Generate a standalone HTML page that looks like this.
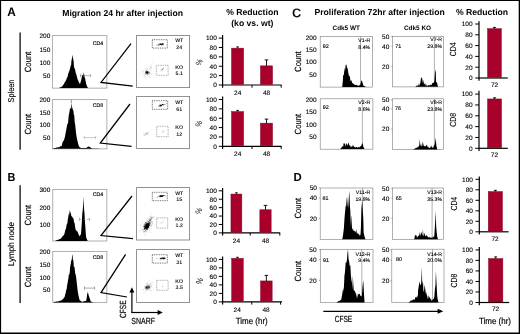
<!DOCTYPE html>
<html lang="en"><head><meta charset="utf-8"><title>Figure</title>
<style>html,body{margin:0;padding:0;background:#fff}svg{display:block}text{text-rendering:geometricPrecision}</style></head>
<body>
<svg width="520" height="334" viewBox="0 0 520 334" font-family='"Liberation Sans", sans-serif'>
<rect x="0" y="0" width="520" height="334" fill="#fff"/>
<text transform="translate(7.20 16.20) scale(0.97 1)" y="0.00" font-size="12.2" text-anchor="start" font-weight="bold" fill="#000" >A</text>
<text transform="translate(7.40 180.70) scale(0.95 1)" y="0.00" font-size="11.5" text-anchor="start" font-weight="bold" fill="#000" >B</text>
<text transform="translate(292.30 16.70)" y="0.00" font-size="12" text-anchor="start" font-weight="normal" fill="#000" stroke="#000" stroke-width="0.45">C</text>
<text transform="translate(293.60 180.80) scale(0.98 1)" y="0.00" font-size="11.6" text-anchor="start" font-weight="bold" fill="#000" >D</text>
<text transform="translate(122.65 15.50)" y="0.00" font-size="8.65" text-anchor="middle" font-weight="bold" fill="#000" >Migration 24 hr after injection</text>
<text transform="translate(252.30 15.40)" y="0.00" font-size="8.65" text-anchor="middle" font-weight="bold" fill="#000" >% Reduction</text>
<text transform="translate(252.30 25.90)" y="0.00" font-size="8.65" text-anchor="middle" font-weight="bold" fill="#000" >(ko vs. wt)</text>
<text transform="translate(314.40 15.40)" y="0.00" font-size="8.65" text-anchor="start" font-weight="bold" fill="#000" >Proliferation 72hr after injection</text>
<text transform="translate(482.00 15.40)" y="0.00" font-size="8.65" text-anchor="middle" font-weight="bold" fill="#000" >% Reduction</text>
<text transform="translate(346.20 27.70)" y="2.29" font-size="6.4" text-anchor="middle" font-weight="bold" fill="#000" >Cdk5 WT</text>
<text transform="translate(417.50 27.70)" y="2.29" font-size="6.4" text-anchor="middle" font-weight="bold" fill="#000" >Cdk5 KO</text>
<line x1="20.10" y1="32.40" x2="20.10" y2="149.80" stroke="#000" stroke-width="1.25" />
<line x1="20.10" y1="185.30" x2="20.10" y2="303.00" stroke="#000" stroke-width="1.25" />
<text transform="translate(10.60 91.00) rotate(-90) scale(0.865 1)" y="3.04" font-size="8.5" text-anchor="middle" font-weight="normal" fill="#000" stroke="#000" stroke-width="0.14">Spleen</text>
<text transform="translate(10.60 244.10) rotate(-90) scale(0.95 1)" y="3.04" font-size="8.5" text-anchor="middle" font-weight="normal" fill="#000" stroke="#000" stroke-width="0.14">Lymph node</text>
<text transform="translate(28.10 61.90) rotate(-90) scale(0.859 1)" y="3.22" font-size="9.0" text-anchor="middle" font-weight="normal" fill="#000" stroke="#000" stroke-width="0.18">Count</text>
<text transform="translate(28.10 124.20) rotate(-90) scale(0.859 1)" y="3.22" font-size="9.0" text-anchor="middle" font-weight="normal" fill="#000" stroke="#000" stroke-width="0.18">Count</text>
<text transform="translate(28.10 215.10) rotate(-90) scale(0.859 1)" y="3.22" font-size="9.0" text-anchor="middle" font-weight="normal" fill="#000" stroke="#000" stroke-width="0.18">Count</text>
<text transform="translate(28.10 277.00) rotate(-90) scale(0.859 1)" y="3.22" font-size="9.0" text-anchor="middle" font-weight="normal" fill="#000" stroke="#000" stroke-width="0.18">Count</text>
<text transform="translate(297.90 61.60) rotate(-90) scale(0.859 1)" y="3.22" font-size="9.0" text-anchor="middle" font-weight="normal" fill="#000" stroke="#000" stroke-width="0.18">Count</text>
<text transform="translate(297.90 124.10) rotate(-90) scale(0.859 1)" y="3.22" font-size="9.0" text-anchor="middle" font-weight="normal" fill="#000" stroke="#000" stroke-width="0.18">Count</text>
<text transform="translate(297.90 208.20) rotate(-90) scale(0.859 1)" y="3.22" font-size="9.0" text-anchor="middle" font-weight="normal" fill="#000" stroke="#000" stroke-width="0.18">Count</text>
<text transform="translate(297.90 271.20) rotate(-90) scale(0.859 1)" y="3.22" font-size="9.0" text-anchor="middle" font-weight="normal" fill="#000" stroke="#000" stroke-width="0.18">Count</text>
<rect x="52.30" y="35.70" width="54.60" height="52.40" fill="none" stroke="#858585" stroke-width="0.65" />
<text transform="translate(50.30 36.10)" y="2.33" font-size="6.5" text-anchor="end" font-weight="normal" fill="#000" stroke="#000" stroke-width="0.12">200</text>
<text transform="translate(50.30 49.20)" y="2.33" font-size="6.5" text-anchor="end" font-weight="normal" fill="#000" stroke="#000" stroke-width="0.12">150</text>
<text transform="translate(50.30 62.30)" y="2.33" font-size="6.5" text-anchor="end" font-weight="normal" fill="#000" stroke="#000" stroke-width="0.12">100</text>
<text transform="translate(50.30 75.60)" y="2.33" font-size="6.5" text-anchor="end" font-weight="normal" fill="#000" stroke="#000" stroke-width="0.12">50</text>
<polygon points="59.00,88.00 59.00,88.00 59.45,87.79 59.90,87.57 60.35,87.37 60.80,87.13 61.25,86.90 61.70,86.80 62.00,86.50 62.60,85.88 63.05,84.91 63.50,84.55 63.95,83.95 64.40,82.75 64.80,82.30 65.30,81.66 65.75,80.41 66.20,79.99 66.50,79.00 67.10,77.39 67.55,76.92 68.10,74.00 68.45,73.37 68.90,71.55 69.35,71.16 69.80,69.31 70.20,68.00 70.70,65.53 71.15,65.28 71.40,61.00 72.05,57.83 72.60,54.80 72.95,57.94 73.60,61.00 73.85,64.64 74.30,68.45 74.60,68.00 75.20,70.08 75.65,72.73 76.20,74.00 76.55,75.50 77.00,76.95 77.50,79.00 77.90,79.98 78.35,80.73 78.80,82.22 79.10,82.50 79.90,84.20 80.15,83.39 80.60,82.26 81.20,80.00 81.50,78.45 81.95,76.46 82.30,75.00 82.85,74.99 83.30,72.20 83.75,74.91 84.30,75.00 84.65,77.61 85.10,78.46 85.60,81.00 86.00,82.96 86.45,84.63 86.80,86.00 87.35,86.93 87.80,87.56 88.10,88.00 88.10,88.00" fill="#000"/>
<text transform="translate(97.90 42.80)" y="1.86" font-size="5.2" text-anchor="middle" font-weight="normal" fill="#111" stroke="#111" stroke-width="0.15">CD4</text>
<line x1="80.50" y1="75.60" x2="90.60" y2="75.60" stroke="#777" stroke-width="0.55" />
<line x1="80.50" y1="74.00" x2="80.50" y2="77.20" stroke="#777" stroke-width="0.55" />
<line x1="90.60" y1="74.00" x2="90.60" y2="77.20" stroke="#777" stroke-width="0.55" />
<line x1="84.00" y1="74.00" x2="84.00" y2="77.20" stroke="#777" stroke-width="0.55" />
<polyline points="131.00,43.60 101.00,82.40 132.70,86.20" fill="none" stroke="#000" stroke-width="1.25" stroke-linejoin="miter"/>
<rect x="136.60" y="35.40" width="53.00" height="52.20" fill="none" stroke="#777" stroke-width="0.8" />
<rect x="152.30" y="39.70" width="15.00" height="8.40" fill="none" stroke="#222" stroke-width="0.7" stroke-dasharray="0.9 0.85"/>
<rect x="156.30" y="65.30" width="11.80" height="10.00" fill="none" stroke="#707070" stroke-width="0.65" stroke-dasharray="0.9 0.85"/>
<text transform="translate(179.20 40.60)" y="1.86" font-size="5.2" text-anchor="middle" font-weight="bold" fill="#222" >WT</text>
<text transform="translate(179.20 47.60)" y="1.86" font-size="5.2" text-anchor="middle" font-weight="bold" fill="#222" >24</text>
<text transform="translate(179.20 67.00)" y="1.86" font-size="5.2" text-anchor="middle" font-weight="bold" fill="#222" >KO</text>
<text transform="translate(179.20 73.20)" y="1.86" font-size="5.2" text-anchor="middle" font-weight="bold" fill="#222" >5.1</text>
<g fill="#000" fill-opacity="0.6"><circle cx="145.9" cy="72.7" r="0.33"/><circle cx="147.7" cy="72.0" r="0.33"/><circle cx="145.8" cy="72.3" r="0.33"/><circle cx="147.3" cy="73.3" r="0.33"/><circle cx="145.9" cy="71.3" r="0.33"/><circle cx="147.5" cy="72.8" r="0.33"/><circle cx="148.2" cy="73.2" r="0.33"/><circle cx="146.8" cy="72.2" r="0.33"/><circle cx="149.1" cy="72.2" r="0.33"/><circle cx="146.2" cy="71.4" r="0.33"/><circle cx="147.0" cy="72.5" r="0.33"/><circle cx="146.6" cy="72.3" r="0.33"/><circle cx="147.1" cy="73.0" r="0.33"/><circle cx="147.8" cy="72.6" r="0.33"/><circle cx="145.4" cy="73.0" r="0.33"/><circle cx="145.7" cy="72.3" r="0.33"/><circle cx="145.6" cy="72.4" r="0.33"/><circle cx="146.2" cy="72.6" r="0.33"/><circle cx="149.7" cy="72.4" r="0.33"/><circle cx="147.6" cy="71.3" r="0.33"/><circle cx="146.7" cy="73.0" r="0.33"/><circle cx="146.8" cy="72.7" r="0.33"/><circle cx="147.0" cy="71.5" r="0.33"/><circle cx="147.4" cy="71.7" r="0.33"/><circle cx="148.5" cy="72.0" r="0.33"/><circle cx="147.5" cy="72.4" r="0.33"/><circle cx="147.7" cy="71.9" r="0.33"/><circle cx="147.7" cy="72.3" r="0.33"/><circle cx="148.0" cy="72.9" r="0.33"/><circle cx="147.0" cy="71.7" r="0.33"/><circle cx="147.6" cy="72.8" r="0.33"/><circle cx="148.3" cy="72.1" r="0.33"/><circle cx="147.4" cy="72.8" r="0.33"/><circle cx="147.1" cy="72.6" r="0.33"/><circle cx="147.1" cy="71.9" r="0.33"/><circle cx="146.0" cy="72.1" r="0.33"/><circle cx="147.4" cy="73.7" r="0.33"/><circle cx="147.7" cy="73.3" r="0.33"/><circle cx="147.6" cy="73.0" r="0.33"/><circle cx="147.1" cy="73.1" r="0.33"/><circle cx="148.4" cy="72.1" r="0.33"/><circle cx="146.3" cy="74.1" r="0.33"/><circle cx="147.1" cy="73.2" r="0.33"/><circle cx="147.6" cy="71.4" r="0.33"/><circle cx="149.0" cy="73.9" r="0.33"/><circle cx="147.1" cy="73.0" r="0.33"/><circle cx="147.0" cy="71.6" r="0.33"/><circle cx="146.8" cy="72.7" r="0.33"/><circle cx="147.8" cy="73.0" r="0.33"/><circle cx="147.0" cy="73.6" r="0.33"/><circle cx="146.3" cy="73.1" r="0.33"/><circle cx="147.8" cy="72.2" r="0.33"/><circle cx="145.4" cy="71.6" r="0.33"/><circle cx="147.1" cy="72.8" r="0.33"/><circle cx="148.2" cy="71.5" r="0.33"/><circle cx="146.9" cy="73.0" r="0.33"/><circle cx="146.8" cy="70.4" r="0.33"/><circle cx="147.6" cy="74.4" r="0.33"/><circle cx="147.8" cy="71.6" r="0.33"/><circle cx="146.5" cy="72.6" r="0.33"/><circle cx="149.0" cy="72.9" r="0.33"/><circle cx="147.0" cy="73.7" r="0.33"/><circle cx="146.8" cy="74.0" r="0.33"/><circle cx="146.3" cy="72.0" r="0.33"/><circle cx="147.5" cy="73.6" r="0.33"/><circle cx="147.5" cy="72.7" r="0.33"/><circle cx="145.4" cy="71.8" r="0.33"/><circle cx="146.4" cy="71.9" r="0.33"/><circle cx="147.4" cy="72.1" r="0.33"/><circle cx="147.6" cy="72.5" r="0.33"/><circle cx="146.6" cy="72.5" r="0.33"/><circle cx="147.3" cy="73.1" r="0.33"/><circle cx="146.5" cy="72.2" r="0.33"/><circle cx="145.7" cy="73.8" r="0.33"/><circle cx="148.1" cy="72.2" r="0.33"/><circle cx="146.5" cy="71.3" r="0.33"/><circle cx="147.0" cy="72.6" r="0.33"/><circle cx="148.8" cy="72.6" r="0.33"/><circle cx="146.2" cy="70.3" r="0.33"/><circle cx="148.1" cy="72.6" r="0.33"/></g>
<g fill="#000" fill-opacity="0.25"><circle cx="142.9" cy="73.1" r="0.3"/><circle cx="146.1" cy="71.1" r="0.3"/><circle cx="149.6" cy="72.6" r="0.3"/><circle cx="146.1" cy="77.4" r="0.3"/><circle cx="145.5" cy="68.9" r="0.3"/><circle cx="143.1" cy="70.9" r="0.3"/><circle cx="148.7" cy="74.8" r="0.3"/><circle cx="150.1" cy="77.6" r="0.3"/><circle cx="151.7" cy="74.3" r="0.3"/><circle cx="150.7" cy="74.3" r="0.3"/><circle cx="145.4" cy="74.8" r="0.3"/><circle cx="147.2" cy="71.9" r="0.3"/><circle cx="152.7" cy="74.7" r="0.3"/><circle cx="145.7" cy="72.3" r="0.3"/><circle cx="153.7" cy="71.9" r="0.3"/><circle cx="149.1" cy="74.3" r="0.3"/><circle cx="148.5" cy="74.2" r="0.3"/><circle cx="145.7" cy="71.2" r="0.3"/><circle cx="146.6" cy="71.5" r="0.3"/><circle cx="149.3" cy="76.9" r="0.3"/><circle cx="144.5" cy="74.1" r="0.3"/><circle cx="144.3" cy="70.6" r="0.3"/><circle cx="146.4" cy="72.9" r="0.3"/><circle cx="145.8" cy="65.2" r="0.3"/><circle cx="151.0" cy="71.8" r="0.3"/><circle cx="145.3" cy="74.5" r="0.3"/><circle cx="145.4" cy="68.5" r="0.3"/><circle cx="148.4" cy="73.7" r="0.3"/><circle cx="144.7" cy="74.9" r="0.3"/><circle cx="148.1" cy="69.3" r="0.3"/><circle cx="152.0" cy="73.3" r="0.3"/><circle cx="143.8" cy="73.8" r="0.3"/><circle cx="147.4" cy="75.3" r="0.3"/><circle cx="143.2" cy="75.5" r="0.3"/><circle cx="149.7" cy="74.5" r="0.3"/><circle cx="148.8" cy="76.3" r="0.3"/><circle cx="149.1" cy="72.9" r="0.3"/><circle cx="144.7" cy="75.7" r="0.3"/><circle cx="149.8" cy="73.4" r="0.3"/><circle cx="147.5" cy="74.6" r="0.3"/><circle cx="139.9" cy="73.5" r="0.3"/><circle cx="140.0" cy="73.2" r="0.3"/><circle cx="150.0" cy="77.9" r="0.3"/><circle cx="145.7" cy="73.8" r="0.3"/><circle cx="146.8" cy="66.2" r="0.3"/><circle cx="149.1" cy="72.5" r="0.3"/><circle cx="147.2" cy="69.9" r="0.3"/><circle cx="146.9" cy="72.8" r="0.3"/><circle cx="150.7" cy="73.4" r="0.3"/><circle cx="156.9" cy="71.4" r="0.3"/><circle cx="146.3" cy="72.4" r="0.3"/><circle cx="144.7" cy="76.8" r="0.3"/><circle cx="148.9" cy="68.9" r="0.3"/><circle cx="147.3" cy="75.8" r="0.3"/><circle cx="143.0" cy="73.0" r="0.3"/><circle cx="146.4" cy="79.2" r="0.3"/><circle cx="148.2" cy="71.4" r="0.3"/><circle cx="145.4" cy="77.9" r="0.3"/><circle cx="145.7" cy="79.0" r="0.3"/><circle cx="142.6" cy="72.0" r="0.3"/><circle cx="146.4" cy="70.5" r="0.3"/><circle cx="146.4" cy="74.5" r="0.3"/><circle cx="145.1" cy="68.5" r="0.3"/><circle cx="150.9" cy="76.7" r="0.3"/><circle cx="145.1" cy="73.4" r="0.3"/><circle cx="139.7" cy="75.5" r="0.3"/><circle cx="143.3" cy="71.0" r="0.3"/><circle cx="153.2" cy="68.9" r="0.3"/><circle cx="147.1" cy="69.5" r="0.3"/><circle cx="141.8" cy="69.2" r="0.3"/><circle cx="147.8" cy="68.8" r="0.3"/><circle cx="145.4" cy="74.6" r="0.3"/><circle cx="146.6" cy="68.8" r="0.3"/><circle cx="151.3" cy="72.9" r="0.3"/><circle cx="151.0" cy="69.6" r="0.3"/><circle cx="151.8" cy="68.7" r="0.3"/><circle cx="142.1" cy="71.3" r="0.3"/><circle cx="146.0" cy="73.3" r="0.3"/><circle cx="145.4" cy="74.3" r="0.3"/><circle cx="150.8" cy="70.7" r="0.3"/><circle cx="143.1" cy="71.4" r="0.3"/><circle cx="149.4" cy="74.8" r="0.3"/><circle cx="146.0" cy="69.7" r="0.3"/><circle cx="147.0" cy="75.3" r="0.3"/><circle cx="145.0" cy="76.2" r="0.3"/><circle cx="147.7" cy="73.3" r="0.3"/><circle cx="145.2" cy="76.4" r="0.3"/><circle cx="147.1" cy="68.3" r="0.3"/><circle cx="149.3" cy="71.3" r="0.3"/><circle cx="150.1" cy="73.0" r="0.3"/></g>
<g fill="#000" fill-opacity="0.2"><circle cx="150.7" cy="67.2" r="0.3"/><circle cx="150.2" cy="67.4" r="0.3"/><circle cx="150.8" cy="67.1" r="0.3"/><circle cx="151.7" cy="64.9" r="0.3"/><circle cx="153.0" cy="61.1" r="0.3"/><circle cx="151.0" cy="67.6" r="0.3"/><circle cx="149.9" cy="67.7" r="0.3"/><circle cx="150.7" cy="67.8" r="0.3"/><circle cx="151.8" cy="64.3" r="0.3"/><circle cx="150.5" cy="66.9" r="0.3"/><circle cx="151.9" cy="65.1" r="0.3"/><circle cx="151.1" cy="67.5" r="0.3"/><circle cx="150.1" cy="68.3" r="0.3"/><circle cx="149.1" cy="69.2" r="0.3"/><circle cx="147.0" cy="71.7" r="0.3"/><circle cx="149.2" cy="68.6" r="0.3"/><circle cx="152.7" cy="62.2" r="0.3"/><circle cx="147.0" cy="72.7" r="0.3"/><circle cx="151.3" cy="66.4" r="0.3"/><circle cx="153.0" cy="65.7" r="0.3"/><circle cx="149.0" cy="68.3" r="0.3"/><circle cx="150.6" cy="68.4" r="0.3"/><circle cx="150.9" cy="66.7" r="0.3"/><circle cx="150.9" cy="67.1" r="0.3"/><circle cx="147.9" cy="71.6" r="0.3"/></g>
<g fill="#000" fill-opacity="0.85"><circle cx="161.2" cy="44.8" r="0.35"/><circle cx="160.2" cy="43.6" r="0.35"/><circle cx="161.7" cy="44.4" r="0.35"/><circle cx="161.9" cy="44.4" r="0.35"/><circle cx="161.2" cy="44.0" r="0.35"/><circle cx="160.4" cy="44.2" r="0.35"/><circle cx="161.0" cy="44.6" r="0.35"/><circle cx="162.2" cy="43.7" r="0.35"/><circle cx="162.3" cy="44.1" r="0.35"/><circle cx="162.9" cy="44.7" r="0.35"/><circle cx="162.1" cy="43.5" r="0.35"/><circle cx="162.2" cy="43.5" r="0.35"/><circle cx="163.5" cy="43.8" r="0.35"/><circle cx="161.3" cy="45.0" r="0.35"/><circle cx="159.1" cy="44.4" r="0.35"/><circle cx="160.0" cy="44.1" r="0.35"/><circle cx="160.4" cy="44.6" r="0.35"/><circle cx="161.1" cy="44.4" r="0.35"/><circle cx="162.2" cy="43.5" r="0.35"/><circle cx="163.3" cy="44.0" r="0.35"/><circle cx="159.3" cy="44.2" r="0.35"/><circle cx="162.6" cy="44.5" r="0.35"/><circle cx="160.6" cy="44.4" r="0.35"/><circle cx="161.8" cy="44.6" r="0.35"/><circle cx="161.3" cy="44.6" r="0.35"/><circle cx="160.3" cy="44.0" r="0.35"/><circle cx="162.4" cy="44.4" r="0.35"/><circle cx="161.4" cy="44.5" r="0.35"/><circle cx="161.8" cy="44.5" r="0.35"/><circle cx="163.0" cy="44.3" r="0.35"/><circle cx="162.5" cy="44.0" r="0.35"/><circle cx="160.6" cy="43.3" r="0.35"/><circle cx="162.0" cy="44.2" r="0.35"/><circle cx="162.1" cy="43.4" r="0.35"/><circle cx="160.8" cy="44.1" r="0.35"/><circle cx="159.1" cy="44.8" r="0.35"/><circle cx="163.0" cy="43.6" r="0.35"/><circle cx="162.1" cy="44.9" r="0.35"/><circle cx="159.9" cy="44.8" r="0.35"/><circle cx="163.6" cy="44.8" r="0.35"/></g>
<g fill="#000" fill-opacity="0.5"><circle cx="157.4" cy="45.1" r="0.3"/><circle cx="157.0" cy="44.9" r="0.3"/><circle cx="156.6" cy="45.1" r="0.3"/><circle cx="158.4" cy="45.2" r="0.3"/><circle cx="159.9" cy="44.5" r="0.3"/><circle cx="158.1" cy="44.8" r="0.3"/><circle cx="158.4" cy="44.3" r="0.3"/><circle cx="159.4" cy="43.5" r="0.3"/><circle cx="158.5" cy="45.4" r="0.3"/><circle cx="159.3" cy="44.0" r="0.3"/><circle cx="160.2" cy="44.5" r="0.3"/><circle cx="157.5" cy="44.4" r="0.3"/><circle cx="158.8" cy="44.9" r="0.3"/><circle cx="158.4" cy="45.3" r="0.3"/></g>
<g fill="#000" fill-opacity="0.6"><circle cx="163.6" cy="67.9" r="0.3"/><circle cx="160.9" cy="70.5" r="0.3"/><circle cx="162.5" cy="69.4" r="0.3"/><circle cx="161.9" cy="69.1" r="0.3"/><circle cx="162.4" cy="70.0" r="0.3"/><circle cx="161.6" cy="71.0" r="0.3"/><circle cx="162.9" cy="68.7" r="0.3"/><circle cx="162.8" cy="68.2" r="0.3"/><circle cx="162.8" cy="69.6" r="0.3"/><circle cx="162.0" cy="69.6" r="0.3"/><circle cx="161.2" cy="70.8" r="0.3"/><circle cx="163.3" cy="68.5" r="0.3"/></g>
<line x1="222.60" y1="35.10" x2="222.60" y2="87.70" stroke="#000" stroke-width="1.2" />
<line x1="222.30" y1="85.00" x2="281.60" y2="85.00" stroke="#000" stroke-width="1.2" />
<line x1="218.80" y1="85.00" x2="222.60" y2="85.00" stroke="#000" stroke-width="1.0" />
<text transform="translate(216.80 85.00)" y="2.33" font-size="6.5" text-anchor="end" font-weight="normal" fill="#000" stroke="#000" stroke-width="0.12">0</text>
<line x1="218.80" y1="75.62" x2="222.60" y2="75.62" stroke="#000" stroke-width="1.0" />
<text transform="translate(216.80 75.62)" y="2.33" font-size="6.5" text-anchor="end" font-weight="normal" fill="#000" stroke="#000" stroke-width="0.12">20</text>
<line x1="218.80" y1="66.24" x2="222.60" y2="66.24" stroke="#000" stroke-width="1.0" />
<text transform="translate(216.80 66.24)" y="2.33" font-size="6.5" text-anchor="end" font-weight="normal" fill="#000" stroke="#000" stroke-width="0.12">40</text>
<line x1="218.80" y1="56.86" x2="222.60" y2="56.86" stroke="#000" stroke-width="1.0" />
<text transform="translate(216.80 56.86)" y="2.33" font-size="6.5" text-anchor="end" font-weight="normal" fill="#000" stroke="#000" stroke-width="0.12">60</text>
<line x1="218.80" y1="47.48" x2="222.60" y2="47.48" stroke="#000" stroke-width="1.0" />
<text transform="translate(216.80 47.48)" y="2.33" font-size="6.5" text-anchor="end" font-weight="normal" fill="#000" stroke="#000" stroke-width="0.12">80</text>
<line x1="218.80" y1="38.10" x2="222.60" y2="38.10" stroke="#000" stroke-width="1.0" />
<text transform="translate(216.80 38.10)" y="2.33" font-size="6.5" text-anchor="end" font-weight="normal" fill="#000" stroke="#000" stroke-width="0.12">100</text>
<line x1="252.00" y1="85.00" x2="252.00" y2="87.70" stroke="#000" stroke-width="1.0" />
<line x1="281.20" y1="85.00" x2="281.20" y2="87.70" stroke="#000" stroke-width="1.0" />
<rect x="231.55" y="48.15" width="12.10" height="36.35" fill="#a6002b" stroke="#8a0622" stroke-width="0.5" />
<line x1="237.60" y1="46.90" x2="237.60" y2="48.20" stroke="#000" stroke-width="0.9" />
<line x1="236.30" y1="46.90" x2="238.90" y2="46.90" stroke="#000" stroke-width="0.9" />
<rect x="260.45" y="65.85" width="12.10" height="18.65" fill="#a6002b" stroke="#8a0622" stroke-width="0.5" />
<line x1="266.50" y1="59.90" x2="266.50" y2="65.90" stroke="#000" stroke-width="0.9" />
<line x1="264.70" y1="59.90" x2="268.30" y2="59.90" stroke="#000" stroke-width="0.9" />
<text transform="translate(237.70 92.80)" y="2.33" font-size="6.5" text-anchor="middle" font-weight="normal" fill="#000" stroke="#000" stroke-width="0.12">24</text>
<text transform="translate(266.60 92.80)" y="2.33" font-size="6.5" text-anchor="middle" font-weight="normal" fill="#000" stroke="#000" stroke-width="0.12">48</text>
<text transform="translate(199.00 62.20) rotate(-65) scale(0.9 1)" y="2.86" font-size="8.0" text-anchor="middle" font-weight="normal" fill="#000" >%</text>
<rect x="52.30" y="99.70" width="54.60" height="49.20" fill="none" stroke="#858585" stroke-width="0.65" />
<text transform="translate(50.30 100.00)" y="2.33" font-size="6.5" text-anchor="end" font-weight="normal" fill="#000" stroke="#000" stroke-width="0.12">200</text>
<text transform="translate(50.30 112.20)" y="2.33" font-size="6.5" text-anchor="end" font-weight="normal" fill="#000" stroke="#000" stroke-width="0.12">150</text>
<text transform="translate(50.30 124.70)" y="2.33" font-size="6.5" text-anchor="end" font-weight="normal" fill="#000" stroke="#000" stroke-width="0.12">100</text>
<text transform="translate(50.30 137.20)" y="2.33" font-size="6.5" text-anchor="end" font-weight="normal" fill="#000" stroke="#000" stroke-width="0.12">50</text>
<polygon points="53.20,148.80 53.20,148.20 53.65,148.17 54.10,148.11 54.55,147.99 55.00,147.95 55.45,147.88 55.90,147.75 56.35,147.58 56.80,147.51 57.25,147.44 57.70,147.47 58.15,147.32 58.60,147.30 59.05,147.25 59.50,147.00 59.95,146.70 60.50,145.80 60.85,146.32 61.50,146.60 61.75,145.51 62.20,143.71 62.50,142.50 63.10,141.33 63.55,140.46 64.00,140.42 64.30,139.00 64.90,137.09 65.35,134.41 65.80,132.07 66.20,130.00 66.70,127.33 67.15,124.97 67.40,124.00 68.05,122.92 68.50,117.86 68.80,115.00 69.40,112.22 70.00,108.00 70.30,108.61 70.75,108.98 71.30,102.60 71.65,106.17 72.10,110.34 72.55,106.68 72.80,108.50 73.45,111.15 73.90,114.94 74.20,115.00 74.80,123.08 75.25,125.12 75.70,130.00 76.15,133.80 76.80,138.00 77.05,139.01 77.50,141.09 77.80,142.50 78.40,144.54 78.85,145.90 79.20,146.80 79.75,147.22 80.20,147.54 80.65,147.87 81.00,148.00 81.55,148.06 82.00,148.00 82.45,148.09 82.90,148.09 83.35,148.02 83.80,148.06 84.25,148.03 84.70,148.04 85.15,148.05 85.60,147.98 86.00,148.00 86.50,147.77 86.95,147.45 87.40,147.22 87.85,146.82 88.30,146.65 88.70,146.20 89.20,146.71 89.65,146.90 90.10,147.33 90.55,147.59 91.00,147.85 91.60,148.30 91.90,148.36 92.35,148.38 92.80,148.39 93.25,148.37 93.70,148.40 94.15,148.44 94.60,148.45 95.05,148.47 95.50,148.48 95.95,148.51 96.40,148.50 96.85,148.51 97.30,148.52 97.75,148.55 98.20,148.56 98.65,148.61 99.00,148.60 99.00,148.80" fill="#000"/>
<line x1="71.30" y1="99.90" x2="71.30" y2="103.00" stroke="#222" stroke-width="0.5" />
<text transform="translate(97.90 105.40)" y="1.86" font-size="5.2" text-anchor="middle" font-weight="normal" fill="#111" stroke="#111" stroke-width="0.15">CD8</text>
<line x1="84.30" y1="137.60" x2="95.40" y2="137.60" stroke="#999" stroke-width="0.55" />
<line x1="84.30" y1="136.00" x2="84.30" y2="139.20" stroke="#999" stroke-width="0.55" />
<line x1="95.40" y1="136.00" x2="95.40" y2="139.20" stroke="#999" stroke-width="0.55" />
<polyline points="130.00,104.00 100.30,143.00 131.60,146.40" fill="none" stroke="#000" stroke-width="1.25" stroke-linejoin="miter"/>
<rect x="136.60" y="96.40" width="53.00" height="52.00" fill="none" stroke="#777" stroke-width="0.8" />
<rect x="152.30" y="100.70" width="15.40" height="8.60" fill="none" stroke="#222" stroke-width="0.7" stroke-dasharray="0.9 0.85"/>
<rect x="156.70" y="126.30" width="11.40" height="10.40" fill="none" stroke="#707070" stroke-width="0.65" stroke-dasharray="0.9 0.85"/>
<text transform="translate(179.20 102.00)" y="1.86" font-size="5.2" text-anchor="middle" font-weight="bold" fill="#222" >WT</text>
<text transform="translate(179.20 109.00)" y="1.86" font-size="5.2" text-anchor="middle" font-weight="bold" fill="#222" >61</text>
<text transform="translate(179.20 127.60)" y="1.86" font-size="5.2" text-anchor="middle" font-weight="bold" fill="#222" >KO</text>
<text transform="translate(179.20 134.50)" y="1.86" font-size="5.2" text-anchor="middle" font-weight="bold" fill="#222" >12</text>
<g fill="#000" fill-opacity="0.3"><circle cx="147.7" cy="134.2" r="0.3"/><circle cx="144.5" cy="134.0" r="0.3"/><circle cx="147.2" cy="134.9" r="0.3"/><circle cx="146.2" cy="132.9" r="0.3"/><circle cx="144.9" cy="134.6" r="0.3"/><circle cx="147.4" cy="133.2" r="0.3"/><circle cx="145.4" cy="134.1" r="0.3"/><circle cx="146.0" cy="133.3" r="0.3"/><circle cx="146.2" cy="134.2" r="0.3"/><circle cx="148.4" cy="132.6" r="0.3"/><circle cx="147.0" cy="132.5" r="0.3"/><circle cx="147.4" cy="133.4" r="0.3"/><circle cx="145.3" cy="134.4" r="0.3"/><circle cx="147.2" cy="133.0" r="0.3"/><circle cx="148.1" cy="134.2" r="0.3"/><circle cx="149.0" cy="133.7" r="0.3"/><circle cx="144.4" cy="135.3" r="0.3"/><circle cx="145.4" cy="135.2" r="0.3"/><circle cx="146.3" cy="134.1" r="0.3"/><circle cx="146.5" cy="133.2" r="0.3"/><circle cx="145.9" cy="133.4" r="0.3"/><circle cx="148.9" cy="131.9" r="0.3"/><circle cx="145.4" cy="132.8" r="0.3"/><circle cx="143.6" cy="134.7" r="0.3"/><circle cx="147.5" cy="133.9" r="0.3"/><circle cx="146.2" cy="133.3" r="0.3"/><circle cx="148.3" cy="131.8" r="0.3"/><circle cx="145.0" cy="135.0" r="0.3"/><circle cx="144.7" cy="135.0" r="0.3"/><circle cx="147.4" cy="133.1" r="0.3"/><circle cx="146.7" cy="133.7" r="0.3"/><circle cx="143.8" cy="132.4" r="0.3"/><circle cx="144.3" cy="135.0" r="0.3"/><circle cx="143.5" cy="135.0" r="0.3"/></g>
<g fill="#000" fill-opacity="0.85"><circle cx="162.1" cy="104.9" r="0.35"/><circle cx="166.2" cy="103.7" r="0.35"/><circle cx="161.7" cy="105.3" r="0.35"/><circle cx="160.6" cy="105.2" r="0.35"/><circle cx="162.1" cy="104.8" r="0.35"/><circle cx="162.5" cy="104.7" r="0.35"/><circle cx="158.8" cy="105.6" r="0.35"/><circle cx="159.9" cy="104.8" r="0.35"/><circle cx="161.3" cy="105.1" r="0.35"/><circle cx="162.6" cy="104.4" r="0.35"/><circle cx="161.2" cy="105.5" r="0.35"/><circle cx="162.3" cy="104.4" r="0.35"/><circle cx="163.4" cy="104.2" r="0.35"/><circle cx="163.0" cy="104.5" r="0.35"/><circle cx="160.6" cy="104.9" r="0.35"/><circle cx="161.6" cy="106.2" r="0.35"/><circle cx="160.7" cy="106.1" r="0.35"/><circle cx="163.2" cy="104.4" r="0.35"/><circle cx="163.1" cy="105.2" r="0.35"/><circle cx="160.9" cy="105.1" r="0.35"/><circle cx="163.0" cy="104.8" r="0.35"/><circle cx="164.4" cy="104.3" r="0.35"/><circle cx="159.8" cy="105.8" r="0.35"/><circle cx="159.9" cy="106.1" r="0.35"/><circle cx="162.3" cy="104.7" r="0.35"/><circle cx="160.3" cy="106.0" r="0.35"/><circle cx="161.1" cy="105.9" r="0.35"/><circle cx="160.0" cy="105.6" r="0.35"/><circle cx="160.5" cy="105.1" r="0.35"/><circle cx="165.4" cy="104.5" r="0.35"/><circle cx="160.7" cy="105.8" r="0.35"/><circle cx="159.1" cy="106.6" r="0.35"/><circle cx="162.9" cy="104.5" r="0.35"/><circle cx="161.0" cy="105.5" r="0.35"/><circle cx="162.0" cy="104.8" r="0.35"/><circle cx="160.2" cy="105.5" r="0.35"/><circle cx="160.9" cy="105.7" r="0.35"/><circle cx="161.6" cy="105.2" r="0.35"/><circle cx="159.1" cy="105.9" r="0.35"/><circle cx="160.8" cy="105.2" r="0.35"/></g>
<g fill="#000" fill-opacity="0.4"><circle cx="164.3" cy="130.4" r="0.3"/><circle cx="163.2" cy="131.2" r="0.3"/><circle cx="162.5" cy="130.9" r="0.3"/><circle cx="162.7" cy="131.4" r="0.3"/><circle cx="163.2" cy="132.5" r="0.3"/><circle cx="163.1" cy="132.6" r="0.3"/></g>
<line x1="222.60" y1="96.50" x2="222.60" y2="149.00" stroke="#000" stroke-width="1.2" />
<line x1="222.30" y1="146.30" x2="281.60" y2="146.30" stroke="#000" stroke-width="1.2" />
<line x1="218.80" y1="146.30" x2="222.60" y2="146.30" stroke="#000" stroke-width="1.0" />
<text transform="translate(216.80 146.30)" y="2.33" font-size="6.5" text-anchor="end" font-weight="normal" fill="#000" stroke="#000" stroke-width="0.12">0</text>
<line x1="218.80" y1="136.94" x2="222.60" y2="136.94" stroke="#000" stroke-width="1.0" />
<text transform="translate(216.80 136.94)" y="2.33" font-size="6.5" text-anchor="end" font-weight="normal" fill="#000" stroke="#000" stroke-width="0.12">20</text>
<line x1="218.80" y1="127.58" x2="222.60" y2="127.58" stroke="#000" stroke-width="1.0" />
<text transform="translate(216.80 127.58)" y="2.33" font-size="6.5" text-anchor="end" font-weight="normal" fill="#000" stroke="#000" stroke-width="0.12">40</text>
<line x1="218.80" y1="118.22" x2="222.60" y2="118.22" stroke="#000" stroke-width="1.0" />
<text transform="translate(216.80 118.22)" y="2.33" font-size="6.5" text-anchor="end" font-weight="normal" fill="#000" stroke="#000" stroke-width="0.12">60</text>
<line x1="218.80" y1="108.86" x2="222.60" y2="108.86" stroke="#000" stroke-width="1.0" />
<text transform="translate(216.80 108.86)" y="2.33" font-size="6.5" text-anchor="end" font-weight="normal" fill="#000" stroke="#000" stroke-width="0.12">80</text>
<line x1="218.80" y1="99.50" x2="222.60" y2="99.50" stroke="#000" stroke-width="1.0" />
<text transform="translate(216.80 99.50)" y="2.33" font-size="6.5" text-anchor="end" font-weight="normal" fill="#000" stroke="#000" stroke-width="0.12">100</text>
<line x1="252.00" y1="146.30" x2="252.00" y2="149.00" stroke="#000" stroke-width="1.0" />
<line x1="281.20" y1="146.30" x2="281.20" y2="149.00" stroke="#000" stroke-width="1.0" />
<rect x="231.55" y="111.55" width="12.10" height="34.25" fill="#a6002b" stroke="#8a0622" stroke-width="0.5" />
<line x1="237.60" y1="110.40" x2="237.60" y2="111.60" stroke="#000" stroke-width="0.9" />
<line x1="236.30" y1="110.40" x2="238.90" y2="110.40" stroke="#000" stroke-width="0.9" />
<rect x="260.45" y="123.15" width="12.10" height="22.65" fill="#a6002b" stroke="#8a0622" stroke-width="0.5" />
<line x1="266.50" y1="119.10" x2="266.50" y2="123.20" stroke="#000" stroke-width="0.9" />
<line x1="264.70" y1="119.10" x2="268.30" y2="119.10" stroke="#000" stroke-width="0.9" />
<text transform="translate(237.70 153.70)" y="2.33" font-size="6.5" text-anchor="middle" font-weight="normal" fill="#000" stroke="#000" stroke-width="0.12">24</text>
<text transform="translate(266.60 153.70)" y="2.33" font-size="6.5" text-anchor="middle" font-weight="normal" fill="#000" stroke="#000" stroke-width="0.12">48</text>
<text transform="translate(198.50 123.60) rotate(-65) scale(0.9 1)" y="2.86" font-size="8.0" text-anchor="middle" font-weight="normal" fill="#000" >%</text>
<rect x="52.80" y="189.30" width="54.10" height="51.70" fill="none" stroke="#858585" stroke-width="0.65" />
<text transform="translate(50.30 189.90)" y="2.33" font-size="6.5" text-anchor="end" font-weight="normal" fill="#000" stroke="#000" stroke-width="0.12">300</text>
<text transform="translate(50.30 207.30)" y="2.33" font-size="6.5" text-anchor="end" font-weight="normal" fill="#000" stroke="#000" stroke-width="0.12">200</text>
<text transform="translate(50.30 224.50)" y="2.33" font-size="6.5" text-anchor="end" font-weight="normal" fill="#000" stroke="#000" stroke-width="0.12">100</text>
<polygon points="55.20,240.90 55.20,240.80 55.65,240.63 56.10,240.44 56.55,240.26 57.00,240.06 57.45,239.90 57.90,239.69 58.35,239.69 58.80,239.43 59.25,239.13 59.70,239.03 60.15,238.77 60.60,238.86 60.90,238.50 61.50,237.81 61.95,237.34 62.40,236.55 62.85,235.91 63.30,235.78 63.75,235.03 64.20,234.38 64.50,233.40 65.10,230.89 65.55,229.37 66.00,228.84 66.40,226.00 66.90,223.70 67.35,223.53 67.70,220.00 68.25,217.36 68.70,214.00 69.15,214.90 69.70,209.50 70.05,214.10 70.50,211.37 70.80,212.50 71.40,216.61 72.00,216.00 72.30,218.64 72.75,216.60 73.20,218.00 73.65,219.33 74.10,222.63 74.50,222.50 75.00,225.75 75.40,229.00 75.90,229.97 76.35,230.20 76.80,231.41 77.20,230.90 77.70,231.96 78.20,233.40 78.60,234.43 79.05,235.22 79.50,236.40 79.95,235.52 80.40,235.24 81.00,233.70 81.30,229.83 81.75,223.87 82.40,212.00 82.65,211.27 83.10,205.34 83.40,196.20 84.00,208.31 84.40,212.00 84.90,220.74 85.20,225.00 85.80,233.56 86.20,237.60 86.70,238.74 87.15,239.77 87.70,240.90 87.70,240.90" fill="#000"/>
<text transform="translate(97.90 194.20)" y="1.86" font-size="5.2" text-anchor="middle" font-weight="normal" fill="#111" stroke="#111" stroke-width="0.15">CD4</text>
<line x1="79.40" y1="219.30" x2="89.50" y2="219.30" stroke="#777" stroke-width="0.55" stroke-dasharray="2.2 1.6"/>
<line x1="79.40" y1="217.70" x2="79.40" y2="220.90" stroke="#777" stroke-width="0.55" />
<line x1="89.50" y1="217.70" x2="89.50" y2="220.90" stroke="#777" stroke-width="0.55" />
<polyline points="132.00,196.00 101.00,235.60 133.00,238.60" fill="none" stroke="#000" stroke-width="1.25" stroke-linejoin="miter"/>
<rect x="136.60" y="187.60" width="53.00" height="52.40" fill="none" stroke="#777" stroke-width="0.8" />
<rect x="152.30" y="192.30" width="15.00" height="8.40" fill="none" stroke="#222" stroke-width="0.7" stroke-dasharray="0.9 0.85"/>
<rect x="156.70" y="217.90" width="11.00" height="10.20" fill="none" stroke="#707070" stroke-width="0.65" stroke-dasharray="0.9 0.85"/>
<text transform="translate(179.20 193.10)" y="1.86" font-size="5.2" text-anchor="middle" font-weight="bold" fill="#222" >WT</text>
<text transform="translate(179.20 199.60)" y="1.86" font-size="5.2" text-anchor="middle" font-weight="bold" fill="#222" >15</text>
<text transform="translate(179.20 218.90)" y="1.86" font-size="5.2" text-anchor="middle" font-weight="bold" fill="#222" >KO</text>
<text transform="translate(179.20 225.10)" y="1.86" font-size="5.2" text-anchor="middle" font-weight="bold" fill="#222" >1.2</text>
<g fill="#000" fill-opacity="0.8"><circle cx="147.3" cy="225.3" r="0.36"/><circle cx="146.8" cy="228.2" r="0.36"/><circle cx="147.5" cy="225.7" r="0.36"/><circle cx="148.5" cy="226.5" r="0.36"/><circle cx="148.8" cy="225.1" r="0.36"/><circle cx="146.3" cy="226.2" r="0.36"/><circle cx="145.8" cy="227.5" r="0.36"/><circle cx="146.2" cy="231.1" r="0.36"/><circle cx="147.1" cy="225.8" r="0.36"/><circle cx="147.3" cy="224.4" r="0.36"/><circle cx="147.9" cy="226.0" r="0.36"/><circle cx="147.2" cy="229.3" r="0.36"/><circle cx="147.6" cy="226.1" r="0.36"/><circle cx="145.5" cy="227.3" r="0.36"/><circle cx="147.9" cy="223.0" r="0.36"/><circle cx="147.0" cy="226.9" r="0.36"/><circle cx="145.9" cy="222.5" r="0.36"/><circle cx="148.5" cy="223.7" r="0.36"/><circle cx="146.7" cy="224.0" r="0.36"/><circle cx="148.7" cy="226.3" r="0.36"/><circle cx="146.3" cy="225.8" r="0.36"/><circle cx="146.1" cy="226.4" r="0.36"/><circle cx="147.8" cy="224.8" r="0.36"/><circle cx="147.3" cy="227.2" r="0.36"/><circle cx="144.6" cy="227.0" r="0.36"/><circle cx="148.4" cy="221.7" r="0.36"/><circle cx="148.2" cy="223.3" r="0.36"/><circle cx="147.2" cy="226.6" r="0.36"/><circle cx="145.4" cy="226.9" r="0.36"/><circle cx="146.4" cy="226.1" r="0.36"/><circle cx="149.4" cy="225.8" r="0.36"/><circle cx="145.1" cy="227.4" r="0.36"/><circle cx="148.1" cy="225.0" r="0.36"/><circle cx="147.2" cy="223.8" r="0.36"/><circle cx="147.4" cy="225.0" r="0.36"/><circle cx="146.0" cy="228.8" r="0.36"/><circle cx="146.1" cy="228.8" r="0.36"/><circle cx="146.4" cy="226.6" r="0.36"/><circle cx="150.2" cy="223.3" r="0.36"/><circle cx="147.7" cy="225.5" r="0.36"/><circle cx="147.5" cy="227.8" r="0.36"/><circle cx="146.7" cy="224.5" r="0.36"/><circle cx="145.5" cy="228.7" r="0.36"/><circle cx="147.6" cy="226.7" r="0.36"/><circle cx="145.2" cy="227.2" r="0.36"/><circle cx="147.4" cy="225.3" r="0.36"/><circle cx="148.8" cy="225.0" r="0.36"/><circle cx="143.9" cy="226.2" r="0.36"/><circle cx="146.3" cy="225.5" r="0.36"/><circle cx="144.6" cy="224.2" r="0.36"/><circle cx="146.9" cy="226.2" r="0.36"/><circle cx="146.9" cy="227.1" r="0.36"/><circle cx="147.2" cy="225.9" r="0.36"/><circle cx="149.3" cy="224.5" r="0.36"/><circle cx="148.3" cy="224.2" r="0.36"/><circle cx="147.6" cy="226.0" r="0.36"/><circle cx="146.5" cy="225.1" r="0.36"/><circle cx="148.1" cy="225.8" r="0.36"/><circle cx="145.6" cy="226.1" r="0.36"/><circle cx="146.7" cy="224.7" r="0.36"/><circle cx="145.4" cy="228.2" r="0.36"/><circle cx="146.0" cy="228.5" r="0.36"/><circle cx="146.6" cy="226.8" r="0.36"/><circle cx="149.0" cy="224.7" r="0.36"/><circle cx="144.7" cy="225.0" r="0.36"/><circle cx="145.4" cy="226.2" r="0.36"/><circle cx="149.2" cy="225.3" r="0.36"/><circle cx="148.1" cy="225.2" r="0.36"/><circle cx="148.1" cy="225.4" r="0.36"/><circle cx="147.5" cy="227.0" r="0.36"/><circle cx="145.6" cy="225.9" r="0.36"/><circle cx="148.5" cy="226.7" r="0.36"/><circle cx="145.1" cy="225.4" r="0.36"/><circle cx="148.2" cy="224.1" r="0.36"/><circle cx="147.0" cy="224.9" r="0.36"/><circle cx="148.9" cy="226.0" r="0.36"/><circle cx="147.0" cy="227.4" r="0.36"/><circle cx="146.4" cy="225.0" r="0.36"/><circle cx="147.7" cy="226.0" r="0.36"/><circle cx="147.3" cy="227.9" r="0.36"/><circle cx="147.1" cy="228.3" r="0.36"/><circle cx="147.7" cy="225.1" r="0.36"/><circle cx="145.5" cy="226.8" r="0.36"/><circle cx="145.0" cy="229.5" r="0.36"/><circle cx="147.4" cy="226.5" r="0.36"/><circle cx="148.0" cy="224.4" r="0.36"/><circle cx="147.6" cy="227.0" r="0.36"/><circle cx="146.9" cy="226.0" r="0.36"/><circle cx="146.9" cy="228.4" r="0.36"/><circle cx="148.2" cy="228.0" r="0.36"/><circle cx="145.8" cy="227.1" r="0.36"/><circle cx="146.4" cy="225.5" r="0.36"/><circle cx="144.6" cy="227.7" r="0.36"/><circle cx="146.0" cy="227.2" r="0.36"/><circle cx="148.4" cy="224.7" r="0.36"/><circle cx="148.0" cy="225.9" r="0.36"/><circle cx="144.5" cy="229.2" r="0.36"/><circle cx="145.5" cy="226.3" r="0.36"/><circle cx="146.7" cy="224.9" r="0.36"/><circle cx="146.8" cy="228.2" r="0.36"/><circle cx="146.2" cy="226.9" r="0.36"/><circle cx="146.5" cy="228.8" r="0.36"/><circle cx="148.3" cy="226.6" r="0.36"/><circle cx="149.4" cy="222.8" r="0.36"/><circle cx="145.9" cy="226.2" r="0.36"/><circle cx="148.2" cy="223.2" r="0.36"/><circle cx="147.7" cy="225.1" r="0.36"/><circle cx="144.2" cy="231.4" r="0.36"/><circle cx="147.3" cy="225.8" r="0.36"/><circle cx="147.1" cy="226.3" r="0.36"/><circle cx="146.7" cy="227.9" r="0.36"/><circle cx="146.7" cy="226.9" r="0.36"/><circle cx="148.6" cy="223.4" r="0.36"/><circle cx="146.4" cy="227.8" r="0.36"/><circle cx="145.9" cy="228.4" r="0.36"/><circle cx="147.1" cy="223.2" r="0.36"/><circle cx="146.0" cy="225.8" r="0.36"/><circle cx="147.4" cy="225.9" r="0.36"/><circle cx="146.8" cy="225.6" r="0.36"/><circle cx="144.5" cy="228.6" r="0.36"/><circle cx="147.3" cy="227.1" r="0.36"/><circle cx="146.3" cy="229.7" r="0.36"/><circle cx="144.7" cy="226.3" r="0.36"/><circle cx="148.5" cy="223.8" r="0.36"/><circle cx="146.4" cy="227.6" r="0.36"/><circle cx="146.1" cy="224.3" r="0.36"/><circle cx="147.2" cy="223.5" r="0.36"/><circle cx="147.1" cy="224.4" r="0.36"/><circle cx="145.1" cy="228.2" r="0.36"/><circle cx="146.6" cy="226.9" r="0.36"/><circle cx="144.6" cy="228.1" r="0.36"/><circle cx="146.9" cy="225.3" r="0.36"/><circle cx="146.9" cy="227.0" r="0.36"/><circle cx="147.7" cy="229.1" r="0.36"/><circle cx="146.7" cy="227.3" r="0.36"/><circle cx="147.7" cy="226.7" r="0.36"/><circle cx="145.8" cy="226.3" r="0.36"/><circle cx="147.7" cy="225.9" r="0.36"/><circle cx="148.7" cy="227.2" r="0.36"/><circle cx="148.8" cy="225.5" r="0.36"/><circle cx="149.0" cy="224.5" r="0.36"/><circle cx="148.3" cy="227.1" r="0.36"/><circle cx="146.8" cy="226.6" r="0.36"/><circle cx="149.0" cy="224.2" r="0.36"/><circle cx="145.7" cy="227.5" r="0.36"/><circle cx="147.3" cy="228.0" r="0.36"/><circle cx="146.7" cy="226.6" r="0.36"/><circle cx="145.9" cy="226.8" r="0.36"/><circle cx="146.6" cy="224.4" r="0.36"/><circle cx="146.5" cy="225.7" r="0.36"/><circle cx="145.4" cy="225.9" r="0.36"/><circle cx="146.4" cy="223.4" r="0.36"/><circle cx="145.5" cy="227.7" r="0.36"/><circle cx="146.3" cy="225.5" r="0.36"/><circle cx="145.1" cy="228.3" r="0.36"/><circle cx="145.5" cy="227.2" r="0.36"/><circle cx="146.3" cy="222.5" r="0.36"/><circle cx="147.2" cy="226.2" r="0.36"/><circle cx="146.2" cy="226.5" r="0.36"/><circle cx="147.6" cy="224.2" r="0.36"/><circle cx="145.1" cy="228.5" r="0.36"/><circle cx="146.8" cy="225.2" r="0.36"/><circle cx="146.6" cy="227.0" r="0.36"/><circle cx="146.6" cy="226.8" r="0.36"/><circle cx="146.9" cy="224.7" r="0.36"/><circle cx="146.8" cy="229.1" r="0.36"/><circle cx="146.5" cy="225.0" r="0.36"/><circle cx="145.7" cy="228.2" r="0.36"/><circle cx="147.5" cy="225.9" r="0.36"/><circle cx="146.8" cy="225.2" r="0.36"/><circle cx="145.2" cy="225.9" r="0.36"/><circle cx="145.8" cy="226.9" r="0.36"/><circle cx="146.6" cy="223.7" r="0.36"/><circle cx="149.2" cy="223.5" r="0.36"/><circle cx="145.9" cy="226.5" r="0.36"/><circle cx="147.4" cy="225.9" r="0.36"/><circle cx="145.9" cy="224.1" r="0.36"/><circle cx="147.1" cy="226.8" r="0.36"/><circle cx="148.0" cy="224.8" r="0.36"/><circle cx="147.1" cy="226.3" r="0.36"/><circle cx="148.0" cy="227.7" r="0.36"/><circle cx="148.0" cy="224.8" r="0.36"/><circle cx="146.4" cy="226.9" r="0.36"/><circle cx="147.3" cy="225.5" r="0.36"/><circle cx="150.1" cy="224.5" r="0.36"/><circle cx="146.7" cy="223.9" r="0.36"/><circle cx="147.0" cy="224.7" r="0.36"/><circle cx="148.7" cy="226.9" r="0.36"/><circle cx="144.2" cy="228.0" r="0.36"/><circle cx="147.1" cy="227.4" r="0.36"/><circle cx="144.8" cy="225.7" r="0.36"/><circle cx="147.8" cy="225.7" r="0.36"/><circle cx="148.0" cy="224.1" r="0.36"/><circle cx="147.3" cy="224.0" r="0.36"/><circle cx="148.7" cy="225.2" r="0.36"/><circle cx="146.3" cy="226.2" r="0.36"/><circle cx="147.2" cy="223.8" r="0.36"/><circle cx="146.2" cy="227.4" r="0.36"/><circle cx="148.2" cy="225.5" r="0.36"/><circle cx="147.0" cy="227.0" r="0.36"/><circle cx="145.2" cy="226.8" r="0.36"/><circle cx="148.3" cy="221.9" r="0.36"/><circle cx="146.0" cy="228.5" r="0.36"/><circle cx="147.0" cy="227.5" r="0.36"/><circle cx="143.8" cy="229.3" r="0.36"/><circle cx="148.0" cy="224.5" r="0.36"/><circle cx="147.5" cy="228.1" r="0.36"/><circle cx="147.5" cy="224.2" r="0.36"/><circle cx="148.4" cy="224.5" r="0.36"/><circle cx="145.2" cy="227.6" r="0.36"/><circle cx="146.1" cy="225.2" r="0.36"/><circle cx="145.1" cy="228.2" r="0.36"/><circle cx="147.6" cy="225.0" r="0.36"/><circle cx="143.8" cy="226.4" r="0.36"/><circle cx="147.3" cy="224.7" r="0.36"/><circle cx="147.4" cy="224.7" r="0.36"/><circle cx="146.6" cy="226.9" r="0.36"/><circle cx="145.7" cy="226.9" r="0.36"/><circle cx="144.1" cy="226.4" r="0.36"/><circle cx="148.6" cy="225.0" r="0.36"/><circle cx="146.0" cy="226.7" r="0.36"/><circle cx="149.2" cy="222.8" r="0.36"/><circle cx="145.4" cy="226.1" r="0.36"/><circle cx="149.4" cy="224.0" r="0.36"/><circle cx="146.8" cy="227.7" r="0.36"/><circle cx="145.8" cy="227.4" r="0.36"/><circle cx="147.5" cy="224.2" r="0.36"/><circle cx="144.9" cy="226.4" r="0.36"/><circle cx="147.1" cy="225.0" r="0.36"/><circle cx="147.7" cy="228.9" r="0.36"/><circle cx="145.8" cy="226.9" r="0.36"/><circle cx="146.9" cy="225.3" r="0.36"/><circle cx="147.2" cy="226.2" r="0.36"/><circle cx="145.6" cy="226.4" r="0.36"/><circle cx="147.5" cy="227.0" r="0.36"/><circle cx="148.3" cy="226.8" r="0.36"/><circle cx="146.1" cy="225.5" r="0.36"/><circle cx="146.9" cy="225.6" r="0.36"/><circle cx="146.3" cy="226.7" r="0.36"/><circle cx="148.4" cy="225.0" r="0.36"/><circle cx="147.3" cy="225.6" r="0.36"/><circle cx="148.1" cy="225.4" r="0.36"/><circle cx="146.6" cy="225.1" r="0.36"/><circle cx="148.9" cy="224.7" r="0.36"/><circle cx="145.3" cy="222.5" r="0.36"/><circle cx="147.5" cy="225.2" r="0.36"/><circle cx="145.8" cy="230.8" r="0.36"/><circle cx="144.8" cy="228.8" r="0.36"/><circle cx="148.0" cy="226.2" r="0.36"/><circle cx="146.1" cy="226.1" r="0.36"/><circle cx="145.2" cy="228.7" r="0.36"/><circle cx="146.1" cy="224.4" r="0.36"/><circle cx="145.6" cy="222.3" r="0.36"/><circle cx="146.0" cy="226.7" r="0.36"/><circle cx="147.2" cy="226.1" r="0.36"/><circle cx="147.2" cy="224.0" r="0.36"/><circle cx="144.5" cy="227.9" r="0.36"/><circle cx="145.8" cy="226.1" r="0.36"/><circle cx="146.4" cy="226.4" r="0.36"/><circle cx="147.7" cy="226.5" r="0.36"/><circle cx="146.0" cy="224.7" r="0.36"/><circle cx="145.7" cy="226.9" r="0.36"/><circle cx="147.1" cy="227.3" r="0.36"/><circle cx="147.9" cy="224.8" r="0.36"/><circle cx="147.3" cy="223.2" r="0.36"/><circle cx="147.9" cy="226.5" r="0.36"/><circle cx="146.3" cy="225.7" r="0.36"/><circle cx="147.2" cy="227.7" r="0.36"/><circle cx="149.4" cy="225.7" r="0.36"/><circle cx="148.8" cy="223.0" r="0.36"/><circle cx="145.7" cy="226.3" r="0.36"/><circle cx="148.2" cy="227.6" r="0.36"/><circle cx="146.2" cy="225.9" r="0.36"/><circle cx="147.1" cy="226.5" r="0.36"/><circle cx="145.7" cy="226.7" r="0.36"/><circle cx="147.6" cy="227.6" r="0.36"/><circle cx="147.4" cy="226.3" r="0.36"/><circle cx="145.6" cy="224.2" r="0.36"/><circle cx="146.2" cy="224.8" r="0.36"/><circle cx="144.9" cy="225.7" r="0.36"/><circle cx="147.7" cy="224.9" r="0.36"/><circle cx="147.2" cy="228.1" r="0.36"/><circle cx="147.5" cy="228.0" r="0.36"/><circle cx="148.9" cy="227.3" r="0.36"/><circle cx="146.4" cy="228.1" r="0.36"/><circle cx="144.7" cy="227.3" r="0.36"/><circle cx="146.2" cy="226.8" r="0.36"/><circle cx="146.4" cy="228.0" r="0.36"/><circle cx="149.0" cy="223.9" r="0.36"/><circle cx="148.1" cy="228.2" r="0.36"/><circle cx="147.1" cy="229.4" r="0.36"/><circle cx="145.9" cy="225.8" r="0.36"/><circle cx="146.9" cy="226.0" r="0.36"/><circle cx="148.4" cy="224.6" r="0.36"/><circle cx="147.5" cy="227.0" r="0.36"/><circle cx="145.7" cy="226.0" r="0.36"/><circle cx="145.0" cy="227.4" r="0.36"/><circle cx="146.7" cy="225.4" r="0.36"/><circle cx="146.2" cy="224.1" r="0.36"/><circle cx="147.3" cy="226.1" r="0.36"/></g>
<g fill="#000" fill-opacity="0.32"><circle cx="149.3" cy="223.4" r="0.3"/><circle cx="149.7" cy="230.2" r="0.3"/><circle cx="143.8" cy="230.9" r="0.3"/><circle cx="150.8" cy="222.6" r="0.3"/><circle cx="146.8" cy="221.6" r="0.3"/><circle cx="150.3" cy="217.4" r="0.3"/><circle cx="147.3" cy="225.3" r="0.3"/><circle cx="146.3" cy="224.5" r="0.3"/><circle cx="151.1" cy="219.6" r="0.3"/><circle cx="146.5" cy="219.5" r="0.3"/><circle cx="148.4" cy="222.7" r="0.3"/><circle cx="148.8" cy="223.9" r="0.3"/><circle cx="148.2" cy="223.4" r="0.3"/><circle cx="147.9" cy="225.0" r="0.3"/><circle cx="148.1" cy="224.4" r="0.3"/><circle cx="147.4" cy="227.1" r="0.3"/><circle cx="149.6" cy="230.8" r="0.3"/><circle cx="152.4" cy="223.9" r="0.3"/><circle cx="144.6" cy="224.0" r="0.3"/><circle cx="142.4" cy="229.7" r="0.3"/><circle cx="145.2" cy="226.9" r="0.3"/><circle cx="147.8" cy="227.3" r="0.3"/><circle cx="145.3" cy="235.8" r="0.3"/><circle cx="146.9" cy="226.6" r="0.3"/><circle cx="143.8" cy="232.0" r="0.3"/><circle cx="145.1" cy="231.1" r="0.3"/><circle cx="148.4" cy="224.4" r="0.3"/><circle cx="146.4" cy="225.5" r="0.3"/><circle cx="148.4" cy="227.5" r="0.3"/><circle cx="148.0" cy="225.2" r="0.3"/><circle cx="153.0" cy="216.6" r="0.3"/><circle cx="140.8" cy="225.7" r="0.3"/><circle cx="142.0" cy="234.2" r="0.3"/><circle cx="147.2" cy="220.7" r="0.3"/><circle cx="144.3" cy="229.2" r="0.3"/><circle cx="149.5" cy="225.8" r="0.3"/><circle cx="145.8" cy="224.8" r="0.3"/><circle cx="147.0" cy="221.5" r="0.3"/><circle cx="141.8" cy="229.1" r="0.3"/><circle cx="145.7" cy="225.8" r="0.3"/><circle cx="147.4" cy="225.3" r="0.3"/><circle cx="153.5" cy="217.1" r="0.3"/><circle cx="139.6" cy="231.3" r="0.3"/><circle cx="146.0" cy="223.6" r="0.3"/><circle cx="151.3" cy="216.7" r="0.3"/><circle cx="146.6" cy="226.8" r="0.3"/><circle cx="147.8" cy="226.8" r="0.3"/><circle cx="147.3" cy="226.6" r="0.3"/><circle cx="140.6" cy="224.2" r="0.3"/><circle cx="151.5" cy="225.7" r="0.3"/><circle cx="144.0" cy="228.0" r="0.3"/><circle cx="148.1" cy="221.7" r="0.3"/><circle cx="147.1" cy="224.5" r="0.3"/><circle cx="148.4" cy="222.8" r="0.3"/><circle cx="152.0" cy="217.9" r="0.3"/><circle cx="143.8" cy="224.4" r="0.3"/><circle cx="145.6" cy="223.7" r="0.3"/><circle cx="149.9" cy="223.6" r="0.3"/><circle cx="151.7" cy="214.6" r="0.3"/><circle cx="149.7" cy="226.0" r="0.3"/><circle cx="144.0" cy="233.4" r="0.3"/><circle cx="151.6" cy="218.6" r="0.3"/><circle cx="149.7" cy="226.8" r="0.3"/><circle cx="148.5" cy="224.5" r="0.3"/><circle cx="147.7" cy="221.1" r="0.3"/><circle cx="151.0" cy="217.8" r="0.3"/><circle cx="146.5" cy="224.7" r="0.3"/><circle cx="138.2" cy="232.6" r="0.3"/><circle cx="146.5" cy="226.5" r="0.3"/><circle cx="155.3" cy="224.3" r="0.3"/><circle cx="148.7" cy="222.4" r="0.3"/><circle cx="148.6" cy="229.3" r="0.3"/><circle cx="145.8" cy="227.4" r="0.3"/><circle cx="150.1" cy="220.1" r="0.3"/><circle cx="147.3" cy="225.9" r="0.3"/><circle cx="143.4" cy="231.0" r="0.3"/><circle cx="148.5" cy="225.0" r="0.3"/><circle cx="142.2" cy="223.8" r="0.3"/><circle cx="147.0" cy="229.0" r="0.3"/><circle cx="143.7" cy="226.9" r="0.3"/><circle cx="149.7" cy="223.9" r="0.3"/><circle cx="148.9" cy="225.3" r="0.3"/><circle cx="150.2" cy="222.8" r="0.3"/><circle cx="151.8" cy="226.2" r="0.3"/><circle cx="149.3" cy="232.0" r="0.3"/><circle cx="146.5" cy="223.2" r="0.3"/><circle cx="151.0" cy="223.9" r="0.3"/><circle cx="145.0" cy="229.8" r="0.3"/><circle cx="150.9" cy="223.1" r="0.3"/><circle cx="145.3" cy="223.7" r="0.3"/><circle cx="151.5" cy="228.2" r="0.3"/><circle cx="151.3" cy="232.4" r="0.3"/><circle cx="147.1" cy="225.2" r="0.3"/><circle cx="146.5" cy="227.3" r="0.3"/><circle cx="145.8" cy="223.1" r="0.3"/><circle cx="154.5" cy="219.2" r="0.3"/><circle cx="145.7" cy="222.1" r="0.3"/><circle cx="146.2" cy="226.3" r="0.3"/><circle cx="149.0" cy="222.1" r="0.3"/><circle cx="144.4" cy="229.1" r="0.3"/><circle cx="146.9" cy="225.9" r="0.3"/><circle cx="147.9" cy="221.1" r="0.3"/><circle cx="146.2" cy="232.2" r="0.3"/><circle cx="147.2" cy="220.1" r="0.3"/><circle cx="148.0" cy="221.8" r="0.3"/><circle cx="150.0" cy="223.3" r="0.3"/><circle cx="142.1" cy="229.0" r="0.3"/><circle cx="144.3" cy="224.0" r="0.3"/><circle cx="142.9" cy="228.4" r="0.3"/><circle cx="146.8" cy="225.7" r="0.3"/><circle cx="145.1" cy="227.7" r="0.3"/><circle cx="151.2" cy="221.5" r="0.3"/><circle cx="146.9" cy="222.8" r="0.3"/><circle cx="143.4" cy="226.1" r="0.3"/><circle cx="141.8" cy="226.0" r="0.3"/><circle cx="146.2" cy="225.2" r="0.3"/><circle cx="144.6" cy="226.9" r="0.3"/><circle cx="145.9" cy="230.7" r="0.3"/><circle cx="151.2" cy="224.4" r="0.3"/><circle cx="147.8" cy="223.7" r="0.3"/><circle cx="146.9" cy="220.3" r="0.3"/><circle cx="146.1" cy="231.4" r="0.3"/><circle cx="149.0" cy="223.7" r="0.3"/><circle cx="150.4" cy="220.2" r="0.3"/><circle cx="148.8" cy="224.8" r="0.3"/><circle cx="145.5" cy="229.9" r="0.3"/><circle cx="148.6" cy="222.9" r="0.3"/><circle cx="144.1" cy="226.7" r="0.3"/><circle cx="140.7" cy="232.1" r="0.3"/><circle cx="152.9" cy="221.8" r="0.3"/><circle cx="145.6" cy="224.6" r="0.3"/><circle cx="152.2" cy="222.3" r="0.3"/><circle cx="147.1" cy="222.3" r="0.3"/><circle cx="151.0" cy="223.5" r="0.3"/><circle cx="144.7" cy="225.8" r="0.3"/><circle cx="146.9" cy="226.9" r="0.3"/><circle cx="149.4" cy="224.3" r="0.3"/><circle cx="146.4" cy="224.5" r="0.3"/><circle cx="150.2" cy="225.2" r="0.3"/><circle cx="149.1" cy="225.4" r="0.3"/><circle cx="145.7" cy="224.5" r="0.3"/><circle cx="146.1" cy="226.4" r="0.3"/><circle cx="143.5" cy="230.5" r="0.3"/><circle cx="146.3" cy="227.6" r="0.3"/><circle cx="149.3" cy="222.6" r="0.3"/><circle cx="146.9" cy="226.9" r="0.3"/><circle cx="146.0" cy="229.6" r="0.3"/><circle cx="151.5" cy="221.1" r="0.3"/><circle cx="149.8" cy="219.3" r="0.3"/><circle cx="144.4" cy="232.3" r="0.3"/><circle cx="150.8" cy="216.0" r="0.3"/><circle cx="149.9" cy="218.8" r="0.3"/><circle cx="149.7" cy="218.8" r="0.3"/><circle cx="147.7" cy="226.7" r="0.3"/><circle cx="144.1" cy="230.9" r="0.3"/><circle cx="148.9" cy="226.7" r="0.3"/><circle cx="148.1" cy="224.5" r="0.3"/><circle cx="150.8" cy="228.0" r="0.3"/><circle cx="148.9" cy="223.6" r="0.3"/><circle cx="145.6" cy="234.6" r="0.3"/><circle cx="148.0" cy="225.3" r="0.3"/><circle cx="149.8" cy="222.4" r="0.3"/><circle cx="150.7" cy="220.0" r="0.3"/><circle cx="149.1" cy="223.4" r="0.3"/><circle cx="149.6" cy="223.1" r="0.3"/><circle cx="149.0" cy="223.8" r="0.3"/><circle cx="149.2" cy="225.1" r="0.3"/><circle cx="144.5" cy="226.6" r="0.3"/><circle cx="147.7" cy="225.2" r="0.3"/><circle cx="147.3" cy="218.8" r="0.3"/><circle cx="149.6" cy="219.3" r="0.3"/><circle cx="146.2" cy="228.5" r="0.3"/><circle cx="150.1" cy="225.1" r="0.3"/><circle cx="145.0" cy="233.9" r="0.3"/><circle cx="151.2" cy="225.3" r="0.3"/><circle cx="144.1" cy="224.1" r="0.3"/><circle cx="146.4" cy="225.8" r="0.3"/><circle cx="150.8" cy="223.8" r="0.3"/><circle cx="139.7" cy="230.6" r="0.3"/><circle cx="146.3" cy="223.8" r="0.3"/><circle cx="152.3" cy="223.2" r="0.3"/><circle cx="152.5" cy="217.5" r="0.3"/><circle cx="151.2" cy="221.9" r="0.3"/><circle cx="147.2" cy="223.9" r="0.3"/><circle cx="151.5" cy="222.2" r="0.3"/><circle cx="147.0" cy="225.1" r="0.3"/><circle cx="144.1" cy="231.8" r="0.3"/><circle cx="145.7" cy="223.4" r="0.3"/><circle cx="150.5" cy="220.4" r="0.3"/><circle cx="144.6" cy="228.5" r="0.3"/><circle cx="143.4" cy="228.2" r="0.3"/><circle cx="144.8" cy="229.8" r="0.3"/><circle cx="142.5" cy="230.1" r="0.3"/><circle cx="147.0" cy="224.8" r="0.3"/><circle cx="146.2" cy="223.7" r="0.3"/><circle cx="146.6" cy="227.8" r="0.3"/><circle cx="148.3" cy="227.6" r="0.3"/><circle cx="146.6" cy="227.0" r="0.3"/><circle cx="148.7" cy="227.6" r="0.3"/><circle cx="146.8" cy="229.5" r="0.3"/><circle cx="150.9" cy="221.7" r="0.3"/><circle cx="148.5" cy="219.2" r="0.3"/><circle cx="142.3" cy="230.5" r="0.3"/><circle cx="147.1" cy="227.3" r="0.3"/><circle cx="145.1" cy="226.6" r="0.3"/><circle cx="150.0" cy="228.2" r="0.3"/><circle cx="145.9" cy="227.4" r="0.3"/><circle cx="151.2" cy="225.9" r="0.3"/><circle cx="141.1" cy="227.6" r="0.3"/><circle cx="145.6" cy="224.4" r="0.3"/><circle cx="142.1" cy="225.0" r="0.3"/><circle cx="148.0" cy="217.6" r="0.3"/><circle cx="149.5" cy="224.3" r="0.3"/><circle cx="152.4" cy="224.1" r="0.3"/><circle cx="144.0" cy="225.3" r="0.3"/><circle cx="150.0" cy="225.2" r="0.3"/><circle cx="146.6" cy="225.2" r="0.3"/><circle cx="148.1" cy="219.7" r="0.3"/><circle cx="148.6" cy="216.5" r="0.3"/><circle cx="145.3" cy="228.1" r="0.3"/><circle cx="147.0" cy="229.2" r="0.3"/><circle cx="144.9" cy="226.9" r="0.3"/><circle cx="148.9" cy="227.6" r="0.3"/><circle cx="146.9" cy="225.0" r="0.3"/><circle cx="148.3" cy="220.0" r="0.3"/><circle cx="144.4" cy="229.7" r="0.3"/><circle cx="146.5" cy="222.4" r="0.3"/><circle cx="147.6" cy="226.4" r="0.3"/><circle cx="147.5" cy="226.2" r="0.3"/><circle cx="150.0" cy="227.1" r="0.3"/><circle cx="147.6" cy="232.2" r="0.3"/><circle cx="143.9" cy="232.3" r="0.3"/><circle cx="154.1" cy="225.9" r="0.3"/><circle cx="146.8" cy="218.5" r="0.3"/><circle cx="146.0" cy="222.3" r="0.3"/><circle cx="152.8" cy="223.3" r="0.3"/><circle cx="149.1" cy="221.0" r="0.3"/><circle cx="144.9" cy="223.0" r="0.3"/><circle cx="143.7" cy="221.6" r="0.3"/><circle cx="145.7" cy="225.8" r="0.3"/><circle cx="145.6" cy="229.9" r="0.3"/><circle cx="150.8" cy="226.2" r="0.3"/><circle cx="147.6" cy="226.4" r="0.3"/><circle cx="147.5" cy="230.4" r="0.3"/><circle cx="144.7" cy="226.5" r="0.3"/><circle cx="145.8" cy="230.9" r="0.3"/><circle cx="147.2" cy="223.7" r="0.3"/><circle cx="150.0" cy="225.2" r="0.3"/><circle cx="148.8" cy="225.5" r="0.3"/><circle cx="147.9" cy="226.5" r="0.3"/><circle cx="150.1" cy="221.8" r="0.3"/><circle cx="145.5" cy="230.4" r="0.3"/><circle cx="150.2" cy="216.3" r="0.3"/><circle cx="145.7" cy="228.2" r="0.3"/><circle cx="144.1" cy="227.2" r="0.3"/><circle cx="140.6" cy="230.5" r="0.3"/><circle cx="142.0" cy="221.0" r="0.3"/><circle cx="145.7" cy="221.0" r="0.3"/><circle cx="150.8" cy="219.3" r="0.3"/><circle cx="144.3" cy="223.5" r="0.3"/></g>
<g fill="#000" fill-opacity="0.4"><circle cx="147.8" cy="223.9" r="0.3"/><circle cx="149.1" cy="219.9" r="0.3"/><circle cx="151.0" cy="222.8" r="0.3"/><circle cx="147.8" cy="223.7" r="0.3"/><circle cx="149.0" cy="219.6" r="0.3"/><circle cx="150.7" cy="221.3" r="0.3"/><circle cx="149.2" cy="220.7" r="0.3"/><circle cx="149.7" cy="220.2" r="0.3"/><circle cx="150.5" cy="220.3" r="0.3"/><circle cx="149.5" cy="220.6" r="0.3"/><circle cx="152.5" cy="217.4" r="0.3"/><circle cx="151.4" cy="219.2" r="0.3"/><circle cx="150.2" cy="221.4" r="0.3"/><circle cx="150.8" cy="220.3" r="0.3"/><circle cx="150.4" cy="220.0" r="0.3"/><circle cx="150.8" cy="220.3" r="0.3"/><circle cx="151.4" cy="218.0" r="0.3"/><circle cx="150.5" cy="217.1" r="0.3"/><circle cx="148.9" cy="222.8" r="0.3"/><circle cx="149.8" cy="222.1" r="0.3"/><circle cx="146.5" cy="224.8" r="0.3"/><circle cx="148.0" cy="224.3" r="0.3"/><circle cx="151.6" cy="217.0" r="0.3"/><circle cx="148.8" cy="221.5" r="0.3"/><circle cx="151.7" cy="219.1" r="0.3"/><circle cx="150.7" cy="218.8" r="0.3"/><circle cx="149.4" cy="221.1" r="0.3"/><circle cx="149.3" cy="221.8" r="0.3"/><circle cx="149.8" cy="219.0" r="0.3"/><circle cx="152.4" cy="217.4" r="0.3"/><circle cx="153.9" cy="216.6" r="0.3"/><circle cx="150.9" cy="220.3" r="0.3"/><circle cx="151.3" cy="217.9" r="0.3"/><circle cx="151.9" cy="218.2" r="0.3"/><circle cx="150.4" cy="219.8" r="0.3"/><circle cx="149.8" cy="220.3" r="0.3"/><circle cx="149.2" cy="222.8" r="0.3"/><circle cx="151.8" cy="218.7" r="0.3"/><circle cx="148.3" cy="223.6" r="0.3"/><circle cx="149.4" cy="221.8" r="0.3"/><circle cx="149.1" cy="221.8" r="0.3"/><circle cx="150.6" cy="219.7" r="0.3"/><circle cx="150.1" cy="220.3" r="0.3"/><circle cx="148.9" cy="222.4" r="0.3"/><circle cx="148.5" cy="224.0" r="0.3"/><circle cx="150.3" cy="220.5" r="0.3"/><circle cx="151.2" cy="217.9" r="0.3"/><circle cx="152.5" cy="218.2" r="0.3"/><circle cx="150.3" cy="219.5" r="0.3"/><circle cx="150.6" cy="219.5" r="0.3"/><circle cx="149.4" cy="222.3" r="0.3"/><circle cx="150.4" cy="219.5" r="0.3"/><circle cx="152.5" cy="221.9" r="0.3"/><circle cx="149.3" cy="222.9" r="0.3"/><circle cx="149.7" cy="220.8" r="0.3"/><circle cx="150.2" cy="218.8" r="0.3"/><circle cx="147.9" cy="224.6" r="0.3"/><circle cx="150.6" cy="219.8" r="0.3"/><circle cx="151.7" cy="217.9" r="0.3"/><circle cx="149.8" cy="219.4" r="0.3"/></g>
<g fill="#000" fill-opacity="0.9"><circle cx="160.2" cy="196.0" r="0.36"/><circle cx="162.3" cy="195.6" r="0.36"/><circle cx="160.2" cy="195.5" r="0.36"/><circle cx="162.6" cy="195.8" r="0.36"/><circle cx="160.8" cy="195.7" r="0.36"/><circle cx="158.5" cy="196.4" r="0.36"/><circle cx="160.5" cy="196.1" r="0.36"/><circle cx="163.6" cy="195.6" r="0.36"/><circle cx="161.6" cy="196.4" r="0.36"/><circle cx="161.5" cy="196.1" r="0.36"/><circle cx="160.2" cy="195.8" r="0.36"/><circle cx="159.7" cy="196.7" r="0.36"/><circle cx="163.3" cy="195.6" r="0.36"/><circle cx="161.6" cy="195.9" r="0.36"/><circle cx="165.3" cy="195.9" r="0.36"/><circle cx="161.7" cy="196.3" r="0.36"/><circle cx="163.6" cy="195.4" r="0.36"/><circle cx="162.7" cy="196.1" r="0.36"/><circle cx="162.0" cy="196.3" r="0.36"/><circle cx="163.5" cy="195.8" r="0.36"/><circle cx="161.5" cy="196.4" r="0.36"/><circle cx="162.2" cy="196.1" r="0.36"/><circle cx="164.5" cy="195.8" r="0.36"/><circle cx="161.8" cy="195.5" r="0.36"/><circle cx="162.4" cy="196.1" r="0.36"/><circle cx="162.8" cy="196.1" r="0.36"/><circle cx="162.9" cy="196.0" r="0.36"/><circle cx="162.2" cy="196.2" r="0.36"/><circle cx="161.0" cy="195.8" r="0.36"/><circle cx="160.7" cy="196.2" r="0.36"/><circle cx="159.7" cy="196.1" r="0.36"/><circle cx="161.7" cy="196.2" r="0.36"/><circle cx="160.7" cy="196.2" r="0.36"/><circle cx="162.0" cy="195.8" r="0.36"/><circle cx="162.0" cy="195.9" r="0.36"/><circle cx="160.5" cy="196.1" r="0.36"/><circle cx="160.9" cy="196.9" r="0.36"/><circle cx="161.6" cy="195.8" r="0.36"/><circle cx="160.1" cy="196.3" r="0.36"/><circle cx="162.4" cy="196.0" r="0.36"/><circle cx="160.2" cy="195.9" r="0.36"/><circle cx="160.6" cy="196.3" r="0.36"/><circle cx="160.9" cy="196.1" r="0.36"/><circle cx="164.1" cy="195.0" r="0.36"/><circle cx="161.6" cy="196.0" r="0.36"/></g>
<g fill="#000" fill-opacity="0.5"><circle cx="157.1" cy="197.7" r="0.3"/><circle cx="162.2" cy="196.0" r="0.3"/><circle cx="159.7" cy="195.6" r="0.3"/><circle cx="161.1" cy="196.3" r="0.3"/><circle cx="159.1" cy="197.1" r="0.3"/><circle cx="157.3" cy="196.9" r="0.3"/><circle cx="157.1" cy="196.5" r="0.3"/><circle cx="160.9" cy="195.3" r="0.3"/><circle cx="157.5" cy="197.2" r="0.3"/><circle cx="160.1" cy="196.1" r="0.3"/><circle cx="160.3" cy="196.7" r="0.3"/><circle cx="159.1" cy="196.0" r="0.3"/></g>
<g fill="#000" fill-opacity="0.35"><circle cx="160.7" cy="222.6" r="0.3"/><circle cx="163.2" cy="220.3" r="0.3"/><circle cx="162.7" cy="222.0" r="0.3"/><circle cx="163.0" cy="222.5" r="0.3"/><circle cx="161.8" cy="223.6" r="0.3"/><circle cx="161.4" cy="222.9" r="0.3"/></g>
<line x1="222.60" y1="188.10" x2="222.60" y2="235.60" stroke="#000" stroke-width="1.2" />
<line x1="222.30" y1="232.90" x2="280.20" y2="232.90" stroke="#000" stroke-width="1.2" />
<line x1="218.80" y1="232.90" x2="222.60" y2="232.90" stroke="#000" stroke-width="1.0" />
<text transform="translate(216.80 232.90)" y="2.33" font-size="6.5" text-anchor="end" font-weight="normal" fill="#000" stroke="#000" stroke-width="0.12">0</text>
<line x1="218.80" y1="224.48" x2="222.60" y2="224.48" stroke="#000" stroke-width="1.0" />
<text transform="translate(216.80 224.48)" y="2.33" font-size="6.5" text-anchor="end" font-weight="normal" fill="#000" stroke="#000" stroke-width="0.12">20</text>
<line x1="218.80" y1="216.06" x2="222.60" y2="216.06" stroke="#000" stroke-width="1.0" />
<text transform="translate(216.80 216.06)" y="2.33" font-size="6.5" text-anchor="end" font-weight="normal" fill="#000" stroke="#000" stroke-width="0.12">40</text>
<line x1="218.80" y1="207.64" x2="222.60" y2="207.64" stroke="#000" stroke-width="1.0" />
<text transform="translate(216.80 207.64)" y="2.33" font-size="6.5" text-anchor="end" font-weight="normal" fill="#000" stroke="#000" stroke-width="0.12">60</text>
<line x1="218.80" y1="199.22" x2="222.60" y2="199.22" stroke="#000" stroke-width="1.0" />
<text transform="translate(216.80 199.22)" y="2.33" font-size="6.5" text-anchor="end" font-weight="normal" fill="#000" stroke="#000" stroke-width="0.12">80</text>
<line x1="218.80" y1="190.80" x2="222.60" y2="190.80" stroke="#000" stroke-width="1.0" />
<text transform="translate(216.80 190.80)" y="2.33" font-size="6.5" text-anchor="end" font-weight="normal" fill="#000" stroke="#000" stroke-width="0.12">100</text>
<line x1="250.20" y1="232.90" x2="250.20" y2="235.60" stroke="#000" stroke-width="1.0" />
<line x1="279.80" y1="232.90" x2="279.80" y2="235.60" stroke="#000" stroke-width="1.0" />
<rect x="230.95" y="194.05" width="10.90" height="38.35" fill="#a6002b" stroke="#8a0622" stroke-width="0.5" />
<line x1="236.40" y1="192.80" x2="236.40" y2="194.10" stroke="#000" stroke-width="0.9" />
<line x1="235.10" y1="192.80" x2="237.70" y2="192.80" stroke="#000" stroke-width="0.9" />
<rect x="259.85" y="209.75" width="11.30" height="22.65" fill="#a6002b" stroke="#8a0622" stroke-width="0.5" />
<line x1="265.50" y1="205.40" x2="265.50" y2="209.80" stroke="#000" stroke-width="0.9" />
<line x1="263.70" y1="205.40" x2="267.30" y2="205.40" stroke="#000" stroke-width="0.9" />
<text transform="translate(236.40 240.70)" y="2.33" font-size="6.5" text-anchor="middle" font-weight="normal" fill="#000" stroke="#000" stroke-width="0.12">24</text>
<text transform="translate(265.60 240.70)" y="2.33" font-size="6.5" text-anchor="middle" font-weight="normal" fill="#000" stroke="#000" stroke-width="0.12">48</text>
<text transform="translate(198.60 210.80) rotate(-65) scale(0.9 1)" y="2.86" font-size="8.0" text-anchor="middle" font-weight="normal" fill="#000" >%</text>
<rect x="52.80" y="251.30" width="54.10" height="51.20" fill="none" stroke="#858585" stroke-width="0.65" />
<text transform="translate(50.30 251.90)" y="2.33" font-size="6.5" text-anchor="end" font-weight="normal" fill="#000" stroke="#000" stroke-width="0.12">200</text>
<text transform="translate(50.30 264.50)" y="2.33" font-size="6.5" text-anchor="end" font-weight="normal" fill="#000" stroke="#000" stroke-width="0.12">150</text>
<text transform="translate(50.30 277.20)" y="2.33" font-size="6.5" text-anchor="end" font-weight="normal" fill="#000" stroke="#000" stroke-width="0.12">100</text>
<text transform="translate(50.30 290.00)" y="2.33" font-size="6.5" text-anchor="end" font-weight="normal" fill="#000" stroke="#000" stroke-width="0.12">50</text>
<polygon points="53.60,302.40 53.60,302.00 54.05,301.93 54.50,301.86 54.95,301.83 55.40,301.79 55.85,301.75 56.30,301.62 56.75,301.58 57.20,301.47 57.65,301.46 58.10,301.34 58.55,301.36 59.00,301.20 59.45,300.99 59.90,300.81 60.35,300.69 60.80,300.46 61.25,300.21 61.70,300.19 62.15,299.86 62.50,299.60 63.05,298.87 63.50,298.61 63.95,297.69 64.40,297.19 64.70,296.70 65.30,293.91 65.75,292.64 66.30,289.40 66.65,289.24 67.10,285.46 67.60,283.00 68.00,280.15 68.45,278.33 68.80,274.50 69.35,274.62 69.80,271.78 70.10,267.00 70.70,264.22 71.30,259.50 71.60,261.27 72.20,254.60 72.50,255.02 72.95,259.68 73.30,260.00 73.85,266.73 74.50,267.00 74.75,269.30 75.20,273.42 75.70,274.50 76.10,277.10 76.55,280.72 76.80,283.00 77.50,289.40 77.90,292.25 78.35,294.68 78.60,296.00 79.25,298.66 79.60,300.00 80.15,300.39 80.60,300.66 81.05,301.19 81.50,301.42 82.00,301.70 82.40,301.63 82.85,301.56 83.30,301.42 83.75,301.40 84.20,301.16 84.65,301.12 85.10,301.11 85.55,300.89 86.20,300.70 86.45,299.27 86.90,296.59 87.20,294.00 87.90,292.00 88.25,293.61 88.70,295.45 89.30,296.70 89.60,298.15 90.05,299.27 90.60,301.20 90.95,301.39 91.40,301.69 91.85,301.83 92.30,302.09 92.75,302.28 93.00,302.40 93.00,302.40" fill="#000"/>
<text transform="translate(97.90 257.40)" y="1.86" font-size="5.2" text-anchor="middle" font-weight="normal" fill="#111" stroke="#111" stroke-width="0.15">CD8</text>
<line x1="84.50" y1="288.10" x2="94.60" y2="288.10" stroke="#666" stroke-width="0.55" />
<line x1="84.50" y1="286.50" x2="84.50" y2="289.70" stroke="#666" stroke-width="0.55" />
<line x1="94.60" y1="286.50" x2="94.60" y2="289.70" stroke="#666" stroke-width="0.55" />
<polyline points="125.60,254.40 101.00,292.60 127.00,297.00" fill="none" stroke="#000" stroke-width="1.25" stroke-linejoin="miter"/>
<rect x="136.60" y="249.60" width="53.00" height="52.80" fill="none" stroke="#777" stroke-width="0.8" />
<rect x="152.30" y="254.70" width="15.00" height="8.40" fill="none" stroke="#222" stroke-width="0.7" stroke-dasharray="0.9 0.85"/>
<rect x="156.70" y="280.30" width="11.40" height="10.00" fill="none" stroke="#707070" stroke-width="0.65" stroke-dasharray="0.9 0.85"/>
<text transform="translate(179.20 255.30)" y="1.86" font-size="5.2" text-anchor="middle" font-weight="bold" fill="#222" >WT</text>
<text transform="translate(179.20 262.00)" y="1.86" font-size="5.2" text-anchor="middle" font-weight="bold" fill="#222" >31</text>
<text transform="translate(179.20 281.10)" y="1.86" font-size="5.2" text-anchor="middle" font-weight="bold" fill="#222" >KO</text>
<text transform="translate(179.20 287.10)" y="1.86" font-size="5.2" text-anchor="middle" font-weight="bold" fill="#222" >3.5</text>
<g fill="#000" fill-opacity="0.5"><circle cx="147.3" cy="288.2" r="0.33"/><circle cx="149.6" cy="287.7" r="0.33"/><circle cx="145.8" cy="288.1" r="0.33"/><circle cx="146.4" cy="288.0" r="0.33"/><circle cx="146.4" cy="286.7" r="0.33"/><circle cx="146.7" cy="286.2" r="0.33"/><circle cx="147.3" cy="286.3" r="0.33"/><circle cx="148.0" cy="287.4" r="0.33"/><circle cx="146.9" cy="287.1" r="0.33"/><circle cx="146.0" cy="287.3" r="0.33"/><circle cx="149.2" cy="286.4" r="0.33"/><circle cx="149.3" cy="286.0" r="0.33"/><circle cx="147.3" cy="286.7" r="0.33"/><circle cx="146.2" cy="286.6" r="0.33"/><circle cx="149.0" cy="287.2" r="0.33"/><circle cx="149.7" cy="287.1" r="0.33"/><circle cx="144.9" cy="286.6" r="0.33"/><circle cx="148.3" cy="286.9" r="0.33"/><circle cx="146.0" cy="287.7" r="0.33"/><circle cx="149.3" cy="287.9" r="0.33"/><circle cx="147.4" cy="286.5" r="0.33"/><circle cx="148.9" cy="287.4" r="0.33"/><circle cx="146.9" cy="289.0" r="0.33"/><circle cx="146.6" cy="288.3" r="0.33"/><circle cx="147.9" cy="287.0" r="0.33"/><circle cx="146.3" cy="289.0" r="0.33"/><circle cx="146.6" cy="289.1" r="0.33"/><circle cx="145.4" cy="288.8" r="0.33"/><circle cx="146.5" cy="287.4" r="0.33"/><circle cx="147.8" cy="287.4" r="0.33"/><circle cx="149.4" cy="286.1" r="0.33"/><circle cx="147.6" cy="285.6" r="0.33"/><circle cx="149.0" cy="287.0" r="0.33"/><circle cx="149.6" cy="287.1" r="0.33"/><circle cx="145.7" cy="287.3" r="0.33"/><circle cx="146.3" cy="287.7" r="0.33"/><circle cx="147.3" cy="284.8" r="0.33"/><circle cx="148.1" cy="288.0" r="0.33"/><circle cx="146.3" cy="286.6" r="0.33"/><circle cx="147.0" cy="288.6" r="0.33"/><circle cx="148.0" cy="286.6" r="0.33"/><circle cx="148.6" cy="288.0" r="0.33"/><circle cx="148.4" cy="289.0" r="0.33"/><circle cx="147.8" cy="289.6" r="0.33"/><circle cx="147.0" cy="289.6" r="0.33"/><circle cx="146.4" cy="286.4" r="0.33"/><circle cx="147.9" cy="287.7" r="0.33"/><circle cx="148.0" cy="287.0" r="0.33"/><circle cx="147.0" cy="287.4" r="0.33"/><circle cx="148.3" cy="288.1" r="0.33"/><circle cx="148.3" cy="287.4" r="0.33"/><circle cx="148.5" cy="288.2" r="0.33"/><circle cx="151.1" cy="286.7" r="0.33"/><circle cx="145.7" cy="287.9" r="0.33"/><circle cx="146.2" cy="288.1" r="0.33"/><circle cx="148.9" cy="285.4" r="0.33"/><circle cx="147.4" cy="287.2" r="0.33"/><circle cx="144.9" cy="288.3" r="0.33"/><circle cx="146.2" cy="287.5" r="0.33"/><circle cx="146.8" cy="287.4" r="0.33"/><circle cx="146.1" cy="286.5" r="0.33"/><circle cx="148.6" cy="286.8" r="0.33"/><circle cx="146.4" cy="287.7" r="0.33"/><circle cx="145.3" cy="286.9" r="0.33"/><circle cx="147.7" cy="286.5" r="0.33"/><circle cx="149.4" cy="287.5" r="0.33"/><circle cx="145.4" cy="287.8" r="0.33"/><circle cx="147.5" cy="286.6" r="0.33"/><circle cx="146.5" cy="287.7" r="0.33"/><circle cx="146.8" cy="286.1" r="0.33"/><circle cx="148.2" cy="288.1" r="0.33"/><circle cx="146.6" cy="287.7" r="0.33"/><circle cx="148.5" cy="287.7" r="0.33"/><circle cx="148.6" cy="286.8" r="0.33"/><circle cx="148.4" cy="285.5" r="0.33"/><circle cx="149.3" cy="286.3" r="0.33"/><circle cx="146.1" cy="286.7" r="0.33"/><circle cx="149.0" cy="286.2" r="0.33"/><circle cx="149.0" cy="288.0" r="0.33"/><circle cx="147.6" cy="288.3" r="0.33"/><circle cx="149.3" cy="287.7" r="0.33"/><circle cx="149.0" cy="288.4" r="0.33"/><circle cx="146.9" cy="287.8" r="0.33"/><circle cx="146.2" cy="287.3" r="0.33"/><circle cx="149.2" cy="286.0" r="0.33"/><circle cx="147.5" cy="287.6" r="0.33"/><circle cx="146.5" cy="286.2" r="0.33"/><circle cx="147.3" cy="288.1" r="0.33"/><circle cx="146.1" cy="288.4" r="0.33"/><circle cx="146.3" cy="287.1" r="0.33"/></g>
<g fill="#000" fill-opacity="0.25"><circle cx="147.2" cy="287.1" r="0.3"/><circle cx="148.6" cy="288.3" r="0.3"/><circle cx="145.2" cy="285.0" r="0.3"/><circle cx="148.1" cy="285.8" r="0.3"/><circle cx="147.5" cy="287.7" r="0.3"/><circle cx="150.1" cy="288.3" r="0.3"/><circle cx="149.5" cy="285.7" r="0.3"/><circle cx="144.6" cy="287.1" r="0.3"/><circle cx="150.4" cy="288.5" r="0.3"/><circle cx="147.7" cy="286.7" r="0.3"/><circle cx="146.7" cy="283.5" r="0.3"/><circle cx="147.9" cy="288.5" r="0.3"/><circle cx="149.4" cy="284.6" r="0.3"/><circle cx="149.0" cy="286.5" r="0.3"/><circle cx="147.8" cy="283.5" r="0.3"/><circle cx="146.7" cy="283.4" r="0.3"/><circle cx="140.9" cy="292.0" r="0.3"/><circle cx="147.1" cy="290.4" r="0.3"/><circle cx="147.4" cy="283.6" r="0.3"/><circle cx="148.2" cy="283.5" r="0.3"/><circle cx="147.1" cy="286.7" r="0.3"/><circle cx="149.3" cy="288.0" r="0.3"/><circle cx="149.8" cy="286.1" r="0.3"/><circle cx="150.0" cy="286.3" r="0.3"/><circle cx="145.3" cy="287.3" r="0.3"/><circle cx="147.5" cy="288.8" r="0.3"/><circle cx="150.9" cy="291.2" r="0.3"/><circle cx="144.2" cy="287.1" r="0.3"/><circle cx="151.8" cy="287.5" r="0.3"/><circle cx="150.2" cy="287.2" r="0.3"/><circle cx="150.9" cy="283.6" r="0.3"/><circle cx="143.8" cy="289.4" r="0.3"/><circle cx="147.7" cy="282.6" r="0.3"/><circle cx="148.3" cy="287.3" r="0.3"/><circle cx="148.2" cy="288.8" r="0.3"/><circle cx="152.7" cy="289.3" r="0.3"/><circle cx="148.3" cy="284.6" r="0.3"/><circle cx="145.2" cy="287.0" r="0.3"/><circle cx="149.1" cy="284.0" r="0.3"/><circle cx="148.8" cy="288.3" r="0.3"/><circle cx="145.7" cy="288.2" r="0.3"/><circle cx="141.9" cy="289.5" r="0.3"/><circle cx="147.2" cy="288.9" r="0.3"/><circle cx="150.5" cy="284.3" r="0.3"/><circle cx="148.7" cy="286.7" r="0.3"/><circle cx="151.6" cy="285.9" r="0.3"/><circle cx="146.8" cy="284.8" r="0.3"/><circle cx="150.4" cy="285.5" r="0.3"/><circle cx="150.5" cy="284.2" r="0.3"/><circle cx="151.7" cy="282.0" r="0.3"/><circle cx="151.6" cy="283.6" r="0.3"/><circle cx="144.9" cy="286.4" r="0.3"/><circle cx="149.7" cy="289.6" r="0.3"/><circle cx="150.7" cy="286.2" r="0.3"/><circle cx="143.5" cy="293.5" r="0.3"/><circle cx="148.2" cy="284.9" r="0.3"/><circle cx="146.4" cy="288.4" r="0.3"/><circle cx="150.1" cy="281.5" r="0.3"/><circle cx="149.0" cy="290.1" r="0.3"/><circle cx="146.2" cy="287.4" r="0.3"/><circle cx="146.1" cy="284.8" r="0.3"/><circle cx="146.4" cy="284.6" r="0.3"/><circle cx="149.8" cy="285.0" r="0.3"/><circle cx="153.4" cy="282.3" r="0.3"/><circle cx="148.9" cy="281.9" r="0.3"/><circle cx="148.0" cy="287.8" r="0.3"/><circle cx="149.1" cy="280.4" r="0.3"/><circle cx="151.0" cy="285.7" r="0.3"/><circle cx="152.4" cy="284.6" r="0.3"/><circle cx="147.1" cy="286.1" r="0.3"/><circle cx="145.3" cy="290.1" r="0.3"/><circle cx="150.5" cy="290.6" r="0.3"/><circle cx="146.9" cy="288.9" r="0.3"/><circle cx="143.6" cy="289.9" r="0.3"/><circle cx="149.7" cy="287.7" r="0.3"/><circle cx="151.0" cy="283.7" r="0.3"/><circle cx="146.0" cy="290.2" r="0.3"/><circle cx="149.7" cy="286.6" r="0.3"/><circle cx="148.0" cy="290.3" r="0.3"/><circle cx="149.1" cy="287.9" r="0.3"/><circle cx="151.6" cy="285.1" r="0.3"/><circle cx="151.8" cy="289.7" r="0.3"/><circle cx="147.9" cy="286.0" r="0.3"/><circle cx="150.4" cy="289.1" r="0.3"/><circle cx="148.9" cy="287.5" r="0.3"/><circle cx="149.7" cy="283.5" r="0.3"/><circle cx="144.4" cy="291.4" r="0.3"/><circle cx="147.4" cy="285.5" r="0.3"/><circle cx="150.7" cy="286.0" r="0.3"/><circle cx="146.4" cy="290.1" r="0.3"/><circle cx="145.0" cy="285.1" r="0.3"/><circle cx="148.8" cy="285.9" r="0.3"/><circle cx="146.9" cy="289.5" r="0.3"/><circle cx="148.0" cy="285.0" r="0.3"/><circle cx="150.3" cy="287.7" r="0.3"/><circle cx="146.8" cy="289.2" r="0.3"/><circle cx="151.3" cy="290.5" r="0.3"/><circle cx="144.7" cy="292.3" r="0.3"/><circle cx="147.0" cy="287.5" r="0.3"/><circle cx="152.1" cy="282.7" r="0.3"/><circle cx="152.2" cy="281.2" r="0.3"/><circle cx="147.8" cy="285.4" r="0.3"/><circle cx="146.3" cy="288.7" r="0.3"/><circle cx="147.5" cy="288.0" r="0.3"/><circle cx="146.2" cy="294.9" r="0.3"/><circle cx="150.1" cy="290.1" r="0.3"/><circle cx="146.0" cy="289.7" r="0.3"/><circle cx="153.6" cy="278.5" r="0.3"/><circle cx="143.6" cy="289.5" r="0.3"/><circle cx="149.9" cy="287.0" r="0.3"/></g>
<g fill="#000" fill-opacity="0.9"><circle cx="164.6" cy="258.4" r="0.36"/><circle cx="163.5" cy="258.7" r="0.36"/><circle cx="161.5" cy="257.9" r="0.36"/><circle cx="161.2" cy="258.7" r="0.36"/><circle cx="164.0" cy="258.3" r="0.36"/><circle cx="160.9" cy="259.1" r="0.36"/><circle cx="160.5" cy="258.4" r="0.36"/><circle cx="161.9" cy="258.6" r="0.36"/><circle cx="164.0" cy="257.7" r="0.36"/><circle cx="162.2" cy="258.6" r="0.36"/><circle cx="161.1" cy="258.5" r="0.36"/><circle cx="162.8" cy="257.8" r="0.36"/><circle cx="160.9" cy="258.5" r="0.36"/><circle cx="162.3" cy="258.5" r="0.36"/><circle cx="165.5" cy="258.5" r="0.36"/><circle cx="163.2" cy="258.1" r="0.36"/><circle cx="163.8" cy="258.0" r="0.36"/><circle cx="164.7" cy="258.7" r="0.36"/><circle cx="160.0" cy="258.2" r="0.36"/><circle cx="162.3" cy="258.3" r="0.36"/><circle cx="160.9" cy="258.1" r="0.36"/><circle cx="163.5" cy="258.1" r="0.36"/><circle cx="160.6" cy="258.5" r="0.36"/><circle cx="163.9" cy="259.0" r="0.36"/><circle cx="162.7" cy="258.3" r="0.36"/><circle cx="161.5" cy="258.3" r="0.36"/><circle cx="163.3" cy="258.8" r="0.36"/><circle cx="164.2" cy="258.2" r="0.36"/><circle cx="163.8" cy="258.6" r="0.36"/><circle cx="163.1" cy="257.4" r="0.36"/><circle cx="162.5" cy="258.3" r="0.36"/><circle cx="164.3" cy="258.1" r="0.36"/><circle cx="163.2" cy="258.5" r="0.36"/><circle cx="164.3" cy="258.6" r="0.36"/><circle cx="164.0" cy="258.9" r="0.36"/><circle cx="163.9" cy="258.6" r="0.36"/><circle cx="162.3" cy="258.5" r="0.36"/><circle cx="165.4" cy="258.2" r="0.36"/><circle cx="163.3" cy="258.3" r="0.36"/><circle cx="162.1" cy="257.2" r="0.36"/><circle cx="164.8" cy="257.7" r="0.36"/><circle cx="161.6" cy="259.0" r="0.36"/></g>
<g fill="#000" fill-opacity="0.5"><circle cx="161.1" cy="258.4" r="0.3"/><circle cx="157.4" cy="258.6" r="0.3"/><circle cx="160.3" cy="259.3" r="0.3"/><circle cx="156.8" cy="258.6" r="0.3"/><circle cx="160.6" cy="258.8" r="0.3"/><circle cx="158.9" cy="259.6" r="0.3"/><circle cx="160.4" cy="258.6" r="0.3"/><circle cx="161.6" cy="258.4" r="0.3"/><circle cx="163.4" cy="258.3" r="0.3"/><circle cx="163.4" cy="259.1" r="0.3"/></g>
<g fill="#000" fill-opacity="0.35"><circle cx="161.7" cy="286.8" r="0.3"/><circle cx="162.8" cy="285.4" r="0.3"/><circle cx="162.5" cy="286.3" r="0.3"/><circle cx="162.6" cy="286.1" r="0.3"/><circle cx="163.0" cy="287.2" r="0.3"/></g>
<line x1="222.60" y1="256.60" x2="222.60" y2="304.60" stroke="#000" stroke-width="1.2" />
<line x1="222.30" y1="301.90" x2="282.00" y2="301.90" stroke="#000" stroke-width="1.2" />
<line x1="218.80" y1="301.90" x2="222.60" y2="301.90" stroke="#000" stroke-width="1.0" />
<text transform="translate(216.80 301.90)" y="2.33" font-size="6.5" text-anchor="end" font-weight="normal" fill="#000" stroke="#000" stroke-width="0.12">0</text>
<line x1="218.80" y1="293.40" x2="222.60" y2="293.40" stroke="#000" stroke-width="1.0" />
<text transform="translate(216.80 293.40)" y="2.33" font-size="6.5" text-anchor="end" font-weight="normal" fill="#000" stroke="#000" stroke-width="0.12">20</text>
<line x1="218.80" y1="284.90" x2="222.60" y2="284.90" stroke="#000" stroke-width="1.0" />
<text transform="translate(216.80 284.90)" y="2.33" font-size="6.5" text-anchor="end" font-weight="normal" fill="#000" stroke="#000" stroke-width="0.12">40</text>
<line x1="218.80" y1="276.40" x2="222.60" y2="276.40" stroke="#000" stroke-width="1.0" />
<text transform="translate(216.80 276.40)" y="2.33" font-size="6.5" text-anchor="end" font-weight="normal" fill="#000" stroke="#000" stroke-width="0.12">60</text>
<line x1="218.80" y1="267.90" x2="222.60" y2="267.90" stroke="#000" stroke-width="1.0" />
<text transform="translate(216.80 267.90)" y="2.33" font-size="6.5" text-anchor="end" font-weight="normal" fill="#000" stroke="#000" stroke-width="0.12">80</text>
<line x1="218.80" y1="259.40" x2="222.60" y2="259.40" stroke="#000" stroke-width="1.0" />
<text transform="translate(216.80 259.40)" y="2.33" font-size="6.5" text-anchor="end" font-weight="normal" fill="#000" stroke="#000" stroke-width="0.12">100</text>
<line x1="251.80" y1="301.90" x2="251.80" y2="304.60" stroke="#000" stroke-width="1.0" />
<line x1="280.60" y1="301.90" x2="280.60" y2="304.60" stroke="#000" stroke-width="1.0" />
<rect x="231.65" y="258.35" width="11.60" height="43.05" fill="#a6002b" stroke="#8a0622" stroke-width="0.5" />
<line x1="237.45" y1="257.30" x2="237.45" y2="258.40" stroke="#000" stroke-width="0.9" />
<line x1="236.15" y1="257.30" x2="238.75" y2="257.30" stroke="#000" stroke-width="0.9" />
<rect x="260.55" y="280.95" width="11.60" height="20.45" fill="#a6002b" stroke="#8a0622" stroke-width="0.5" />
<line x1="266.35" y1="275.40" x2="266.35" y2="281.00" stroke="#000" stroke-width="0.9" />
<line x1="264.55" y1="275.40" x2="268.15" y2="275.40" stroke="#000" stroke-width="0.9" />
<text transform="translate(237.20 310.00)" y="2.33" font-size="6.5" text-anchor="middle" font-weight="normal" fill="#000" stroke="#000" stroke-width="0.12">24</text>
<text transform="translate(266.10 310.00)" y="2.33" font-size="6.5" text-anchor="middle" font-weight="normal" fill="#000" stroke="#000" stroke-width="0.12">48</text>
<text transform="translate(199.50 281.00) rotate(-65) scale(0.9 1)" y="3.01" font-size="8.4" text-anchor="middle" font-weight="normal" fill="#000" >%</text>
<text transform="translate(251.70 320.70) scale(0.896 1)" y="3.19" font-size="8.9" text-anchor="middle" font-weight="normal" fill="#000" stroke="#000" stroke-width="0.18">Time (hr)</text>
<text transform="translate(122.60 309.20) rotate(-90) scale(0.747 1)" y="3.19" font-size="8.9" text-anchor="middle" font-weight="normal" fill="#000" stroke="#000" stroke-width="0.18">CFSE</text>
<line x1="131.90" y1="312.50" x2="131.90" y2="291.00" stroke="#000" stroke-width="1.2" />
<line x1="131.30" y1="312.50" x2="159.50" y2="312.50" stroke="#000" stroke-width="1.2" />
<polygon points="131.9,287.2 129.4,292.6 134.4,292.6" fill="#000"/>
<polygon points="162.8,312.5 157.6,310 157.6,315" fill="#000"/>
<text transform="translate(143.20 321.10) scale(0.788 1)" y="3.19" font-size="8.9" text-anchor="middle" font-weight="normal" fill="#000" stroke="#000" stroke-width="0.18">SNARF</text>
<rect x="320.20" y="36.60" width="52.30" height="50.50" fill="none" stroke="#858585" stroke-width="0.65" />
<text transform="translate(316.60 37.70)" y="2.33" font-size="6.5" text-anchor="end" font-weight="normal" fill="#000" stroke="#000" stroke-width="0.12">200</text>
<text transform="translate(316.60 49.80)" y="2.33" font-size="6.5" text-anchor="end" font-weight="normal" fill="#000" stroke="#000" stroke-width="0.12">150</text>
<text transform="translate(316.60 62.10)" y="2.33" font-size="6.5" text-anchor="end" font-weight="normal" fill="#000" stroke="#000" stroke-width="0.12">100</text>
<text transform="translate(316.60 74.70)" y="2.33" font-size="6.5" text-anchor="end" font-weight="normal" fill="#000" stroke="#000" stroke-width="0.12">50</text>
<line x1="360.50" y1="36.60" x2="360.50" y2="87.10" stroke="#707070" stroke-width="0.55" />
<text transform="translate(325.80 46.30)" y="1.93" font-size="5.4" text-anchor="middle" font-weight="normal" fill="#000" stroke="#000" stroke-width="0.12">92</text>
<text transform="translate(370.20 40.00)" y="1.86" font-size="5.2" text-anchor="end" font-weight="normal" fill="#000" stroke="#000" stroke-width="0.12">V1-R</text>
<text transform="translate(370.20 46.90)" y="1.86" font-size="5.2" text-anchor="end" font-weight="normal" fill="#000" stroke="#000" stroke-width="0.12">8.4%</text>
<polygon points="342.20,87.00 342.20,87.00 342.75,81.78 343.20,75.00 343.85,74.98 344.50,67.40 344.95,70.90 345.70,65.10 346.05,64.51 346.60,64.88 347.15,68.76 347.60,67.40 348.25,72.64 349.00,76.00 349.35,75.85 349.90,76.93 350.45,80.99 351.00,80.41 351.40,80.20 352.10,82.73 352.65,83.14 353.40,83.70 353.75,83.72 354.30,84.78 354.85,84.74 355.40,84.93 355.95,84.75 356.60,85.20 357.05,85.09 357.60,85.62 358.15,86.03 358.70,85.60 359.25,85.26 359.50,84.60 359.80,85.67 360.35,84.71 360.90,82.20 361.45,80.80 361.80,80.20 362.55,82.60 363.30,85.60 363.65,85.83 364.20,86.11 364.75,86.21 365.30,86.74 365.85,86.81 366.20,86.90 366.20,87.00" fill="#000"/>
<rect x="392.60" y="36.30" width="50.80" height="50.60" fill="none" stroke="#858585" stroke-width="0.65" />
<text transform="translate(389.30 36.50)" y="2.33" font-size="6.5" text-anchor="end" font-weight="normal" fill="#000" stroke="#000" stroke-width="0.12">50</text>
<line x1="391.30" y1="36.50" x2="392.60" y2="36.50" stroke="#555" stroke-width="0.5" />
<text transform="translate(389.30 46.30)" y="2.33" font-size="6.5" text-anchor="end" font-weight="normal" fill="#000" stroke="#000" stroke-width="0.12">40</text>
<line x1="391.30" y1="46.30" x2="392.60" y2="46.30" stroke="#555" stroke-width="0.5" />
<text transform="translate(389.30 66.40)" y="2.33" font-size="6.5" text-anchor="end" font-weight="normal" fill="#000" stroke="#000" stroke-width="0.12">20</text>
<line x1="391.30" y1="66.40" x2="392.60" y2="66.40" stroke="#555" stroke-width="0.5" />
<line x1="434.40" y1="36.30" x2="434.40" y2="86.90" stroke="#707070" stroke-width="0.55" />
<text transform="translate(398.30 45.70)" y="1.93" font-size="5.4" text-anchor="middle" font-weight="normal" fill="#000" stroke="#000" stroke-width="0.12">71</text>
<text transform="translate(442.00 39.20)" y="1.86" font-size="5.2" text-anchor="end" font-weight="normal" fill="#000" stroke="#000" stroke-width="0.12">V7-R</text>
<text transform="translate(442.00 46.30)" y="1.86" font-size="5.2" text-anchor="end" font-weight="normal" fill="#000" stroke="#000" stroke-width="0.12">29.8%</text>
<polygon points="415.20,86.80 415.20,86.80 415.75,86.38 416.30,85.85 416.85,85.46 417.40,85.38 417.95,85.70 418.50,85.19 419.00,82.70 419.60,85.63 420.15,83.88 420.70,80.58 421.00,77.90 421.25,77.52 421.80,77.62 422.35,79.39 422.90,83.18 423.40,79.40 424.00,84.83 424.55,83.77 425.10,83.03 425.40,83.70 425.65,85.99 426.20,84.24 426.75,85.98 427.30,85.93 427.85,85.26 428.40,85.24 428.95,85.03 429.60,85.20 430.05,85.67 430.60,84.47 431.15,84.75 431.70,84.92 432.25,83.35 432.80,82.86 433.40,82.70 433.90,82.83 434.45,80.76 435.00,72.52 435.70,69.30 436.10,82.75 436.65,82.21 436.90,81.70 437.20,83.34 437.75,85.93 438.20,86.80 438.20,86.80" fill="#000"/>
<rect x="320.20" y="98.80" width="52.70" height="50.40" fill="none" stroke="#858585" stroke-width="0.65" />
<text transform="translate(316.60 99.90)" y="2.33" font-size="6.5" text-anchor="end" font-weight="normal" fill="#000" stroke="#000" stroke-width="0.12">200</text>
<text transform="translate(316.60 111.80)" y="2.33" font-size="6.5" text-anchor="end" font-weight="normal" fill="#000" stroke="#000" stroke-width="0.12">150</text>
<text transform="translate(316.60 124.20)" y="2.33" font-size="6.5" text-anchor="end" font-weight="normal" fill="#000" stroke="#000" stroke-width="0.12">100</text>
<text transform="translate(316.60 136.70)" y="2.33" font-size="6.5" text-anchor="end" font-weight="normal" fill="#000" stroke="#000" stroke-width="0.12">50</text>
<line x1="362.40" y1="98.80" x2="362.40" y2="149.20" stroke="#707070" stroke-width="0.55" />
<text transform="translate(325.80 106.90)" y="1.93" font-size="5.4" text-anchor="middle" font-weight="normal" fill="#000" stroke="#000" stroke-width="0.12">92</text>
<text transform="translate(370.20 102.00)" y="1.86" font-size="5.2" text-anchor="end" font-weight="normal" fill="#000" stroke="#000" stroke-width="0.12">V2-R</text>
<text transform="translate(370.20 108.90)" y="1.86" font-size="5.2" text-anchor="end" font-weight="normal" fill="#000" stroke="#000" stroke-width="0.12">8.6%</text>
<polygon points="340.30,149.00 340.30,149.00 340.85,148.35 341.40,147.79 341.95,146.81 342.20,146.60 342.50,146.10 343.05,147.29 343.60,143.57 344.20,142.80 344.70,144.00 345.25,144.15 345.80,146.75 346.35,143.21 346.90,143.60 347.45,145.72 348.00,144.05 348.40,142.20 349.10,144.42 349.65,145.66 349.90,145.30 350.20,145.30 350.75,147.09 351.30,147.28 351.85,146.08 352.40,146.70 352.80,144.70 353.50,146.07 354.05,146.80 354.70,147.00 355.15,147.45 355.70,147.34 356.25,146.92 356.80,146.99 357.35,147.93 357.90,147.01 358.45,146.84 359.00,147.85 359.55,146.90 360.10,146.83 360.50,146.20 361.20,145.90 361.75,144.35 362.30,144.34 362.80,142.20 363.40,147.42 363.95,147.24 364.30,148.90 364.30,149.00" fill="#000"/>
<rect x="392.40" y="98.80" width="51.00" height="50.70" fill="none" stroke="#858585" stroke-width="0.65" />
<text transform="translate(389.30 99.90)" y="2.33" font-size="6.5" text-anchor="end" font-weight="normal" fill="#000" stroke="#000" stroke-width="0.12">50</text>
<line x1="391.10" y1="99.90" x2="392.40" y2="99.90" stroke="#555" stroke-width="0.5" />
<text transform="translate(389.30 108.90)" y="2.33" font-size="6.5" text-anchor="end" font-weight="normal" fill="#000" stroke="#000" stroke-width="0.12">40</text>
<line x1="391.10" y1="108.90" x2="392.40" y2="108.90" stroke="#555" stroke-width="0.5" />
<text transform="translate(389.30 129.00)" y="2.33" font-size="6.5" text-anchor="end" font-weight="normal" fill="#000" stroke="#000" stroke-width="0.12">20</text>
<line x1="391.10" y1="129.00" x2="392.40" y2="129.00" stroke="#555" stroke-width="0.5" />
<line x1="434.40" y1="98.80" x2="434.40" y2="149.50" stroke="#707070" stroke-width="0.55" />
<text transform="translate(398.00 108.30)" y="1.93" font-size="5.4" text-anchor="middle" font-weight="normal" fill="#000" stroke="#000" stroke-width="0.12">76</text>
<text transform="translate(442.00 101.80)" y="1.86" font-size="5.2" text-anchor="end" font-weight="normal" fill="#000" stroke="#000" stroke-width="0.12">V8-R</text>
<text transform="translate(442.00 108.90)" y="1.86" font-size="5.2" text-anchor="end" font-weight="normal" fill="#000" stroke="#000" stroke-width="0.12">23.8%</text>
<polygon points="413.30,149.40 413.30,149.30 413.85,149.15 414.40,148.80 414.95,148.59 415.50,148.21 416.05,147.66 416.60,148.00 417.15,147.42 417.70,147.16 418.10,146.60 418.80,146.65 419.35,144.77 419.60,139.00 419.90,141.66 420.45,146.62 421.00,143.40 421.55,146.19 422.10,146.51 422.65,141.72 422.90,142.20 423.20,143.93 423.75,145.69 424.30,146.59 424.80,145.70 425.40,146.52 425.95,145.97 426.70,144.70 427.05,145.04 427.60,147.37 428.15,146.76 428.60,147.60 429.25,147.61 429.80,148.33 430.35,147.84 431.10,145.30 431.45,146.85 432.00,146.69 432.55,148.08 433.10,147.30 433.40,147.60 433.65,146.32 434.20,145.22 434.75,144.29 435.30,140.92 435.70,137.60 436.40,146.22 436.95,147.82 437.20,149.30 437.20,149.40" fill="#000"/>
<rect x="320.20" y="188.00" width="52.70" height="51.40" fill="none" stroke="#858585" stroke-width="0.65" />
<text transform="translate(316.90 187.90)" y="2.33" font-size="6.5" text-anchor="end" font-weight="normal" fill="#000" stroke="#000" stroke-width="0.12">50</text>
<line x1="318.90" y1="187.90" x2="320.20" y2="187.90" stroke="#555" stroke-width="0.5" />
<text transform="translate(316.90 198.00)" y="2.33" font-size="6.5" text-anchor="end" font-weight="normal" fill="#000" stroke="#000" stroke-width="0.12">40</text>
<line x1="318.90" y1="198.00" x2="320.20" y2="198.00" stroke="#555" stroke-width="0.5" />
<text transform="translate(316.90 218.40)" y="2.33" font-size="6.5" text-anchor="end" font-weight="normal" fill="#000" stroke="#000" stroke-width="0.12">20</text>
<line x1="318.90" y1="218.40" x2="320.20" y2="218.40" stroke="#555" stroke-width="0.5" />
<line x1="362.40" y1="188.00" x2="362.40" y2="239.40" stroke="#707070" stroke-width="0.55" />
<text transform="translate(325.60 198.20)" y="1.93" font-size="5.4" text-anchor="middle" font-weight="normal" fill="#000" stroke="#000" stroke-width="0.12">81</text>
<text transform="translate(370.20 192.50)" y="1.86" font-size="5.2" text-anchor="end" font-weight="normal" fill="#000" stroke="#000" stroke-width="0.12">V11-R</text>
<text transform="translate(370.20 198.80)" y="1.86" font-size="5.2" text-anchor="end" font-weight="normal" fill="#000" stroke="#000" stroke-width="0.12">19.8%</text>
<polygon points="342.20,239.30 342.20,239.30 342.75,236.82 343.20,233.70 343.85,228.38 344.50,218.30 344.95,212.98 345.70,204.90 346.05,207.61 346.60,199.81 347.00,196.30 347.70,205.00 348.00,206.80 348.25,207.70 348.80,197.72 349.30,190.50 349.90,205.30 350.30,210.70 351.00,228.36 351.55,216.07 351.80,216.40 352.10,230.60 352.80,227.90 353.20,229.39 353.75,231.01 354.30,231.17 354.70,230.80 355.40,232.45 355.95,230.57 356.20,228.90 356.50,231.13 357.05,234.31 357.60,232.56 358.15,234.14 358.50,233.70 359.25,234.59 359.80,236.09 360.50,234.60 360.90,228.06 361.40,208.70 362.20,200.10 362.55,206.82 363.30,218.30 363.65,232.72 364.30,235.60 364.75,237.21 365.50,239.30 365.50,239.30" fill="#000"/>
<rect x="392.60" y="188.00" width="50.80" height="51.40" fill="none" stroke="#858585" stroke-width="0.65" />
<text transform="translate(389.30 188.40)" y="2.33" font-size="6.5" text-anchor="end" font-weight="normal" fill="#000" stroke="#000" stroke-width="0.12">50</text>
<line x1="391.30" y1="188.40" x2="392.60" y2="188.40" stroke="#555" stroke-width="0.5" />
<text transform="translate(389.30 198.20)" y="2.33" font-size="6.5" text-anchor="end" font-weight="normal" fill="#000" stroke="#000" stroke-width="0.12">40</text>
<line x1="391.30" y1="198.20" x2="392.60" y2="198.20" stroke="#555" stroke-width="0.5" />
<text transform="translate(389.30 218.30)" y="2.33" font-size="6.5" text-anchor="end" font-weight="normal" fill="#000" stroke="#000" stroke-width="0.12">20</text>
<line x1="391.30" y1="218.30" x2="392.60" y2="218.30" stroke="#555" stroke-width="0.5" />
<line x1="432.10" y1="188.00" x2="432.10" y2="239.40" stroke="#707070" stroke-width="0.55" />
<text transform="translate(398.70 197.80)" y="1.93" font-size="5.4" text-anchor="middle" font-weight="normal" fill="#000" stroke="#000" stroke-width="0.12">65</text>
<text transform="translate(442.00 192.50)" y="1.86" font-size="5.2" text-anchor="end" font-weight="normal" fill="#000" stroke="#000" stroke-width="0.12">V13-R</text>
<text transform="translate(442.00 198.80)" y="1.86" font-size="5.2" text-anchor="end" font-weight="normal" fill="#000" stroke="#000" stroke-width="0.12">35.3%</text>
<polygon points="414.20,239.30 414.20,239.30 414.75,236.47 415.20,234.60 415.85,235.65 416.40,235.09 416.95,237.69 417.50,237.00 418.10,235.60 418.60,235.88 419.15,235.38 419.70,233.27 420.00,231.70 420.25,236.16 420.80,233.91 421.35,231.81 421.90,233.94 422.45,235.83 422.90,229.40 423.55,236.14 424.10,234.89 424.80,232.70 425.20,236.16 425.75,236.19 426.30,234.74 426.85,235.88 427.40,236.66 427.70,235.60 427.95,237.18 428.50,237.09 429.05,238.09 429.60,236.71 430.15,237.32 430.70,237.86 431.25,237.97 431.50,237.10 431.80,237.76 432.35,238.21 432.90,236.00 433.45,236.69 434.00,237.62 434.40,234.60 435.10,223.50 435.70,210.70 436.20,227.31 436.90,233.70 437.30,237.08 437.85,238.80 438.20,239.30 438.20,239.30" fill="#000"/>
<rect x="320.30" y="249.30" width="52.70" height="53.20" fill="none" stroke="#858585" stroke-width="0.65" />
<text transform="translate(316.60 249.80)" y="2.33" font-size="6.5" text-anchor="end" font-weight="normal" fill="#000" stroke="#000" stroke-width="0.12">50</text>
<line x1="319.00" y1="249.80" x2="320.30" y2="249.80" stroke="#555" stroke-width="0.5" />
<text transform="translate(316.60 259.70)" y="2.33" font-size="6.5" text-anchor="end" font-weight="normal" fill="#000" stroke="#000" stroke-width="0.12">40</text>
<line x1="319.00" y1="259.70" x2="320.30" y2="259.70" stroke="#555" stroke-width="0.5" />
<text transform="translate(316.60 280.40)" y="2.33" font-size="6.5" text-anchor="end" font-weight="normal" fill="#000" stroke="#000" stroke-width="0.12">20</text>
<line x1="319.00" y1="280.40" x2="320.30" y2="280.40" stroke="#555" stroke-width="0.5" />
<line x1="361.80" y1="249.30" x2="361.80" y2="302.50" stroke="#707070" stroke-width="0.55" />
<text transform="translate(326.00 260.20)" y="1.93" font-size="5.4" text-anchor="middle" font-weight="normal" fill="#000" stroke="#000" stroke-width="0.12">91</text>
<text transform="translate(370.20 253.90)" y="1.86" font-size="5.2" text-anchor="end" font-weight="normal" fill="#000" stroke="#000" stroke-width="0.12">V12-R</text>
<text transform="translate(370.20 260.20)" y="1.86" font-size="5.2" text-anchor="end" font-weight="normal" fill="#000" stroke="#000" stroke-width="0.12">9.4%</text>
<polygon points="336.50,302.40 336.50,302.30 337.05,302.04 337.60,301.77 338.15,301.30 338.70,300.97 339.25,301.28 339.80,300.49 340.35,300.25 340.90,299.81 341.30,299.50 342.00,295.43 342.55,291.91 343.20,288.00 343.65,292.01 344.20,280.88 344.50,274.60 344.75,274.27 345.30,267.79 345.70,262.10 346.40,262.90 347.00,259.20 347.50,252.50 348.00,249.60 348.60,259.56 349.10,261.20 349.70,265.88 350.30,265.00 350.80,274.11 351.40,280.30 351.90,282.15 352.45,289.39 352.80,275.50 353.70,289.90 354.10,290.85 354.65,290.40 355.20,292.35 355.75,293.07 356.30,297.02 356.60,292.80 356.85,298.53 357.40,296.98 357.95,293.36 358.50,294.75 359.05,293.78 359.50,293.70 360.15,295.27 360.70,296.09 361.40,295.70 361.80,297.06 362.35,289.02 362.90,283.02 363.30,280.30 364.00,293.63 364.50,302.30 364.50,302.40" fill="#000"/>
<rect x="391.80" y="249.20" width="52.20" height="53.30" fill="none" stroke="#858585" stroke-width="0.65" />
<text transform="translate(389.30 249.90)" y="2.33" font-size="6.5" text-anchor="end" font-weight="normal" fill="#000" stroke="#000" stroke-width="0.12">50</text>
<line x1="390.50" y1="249.90" x2="391.80" y2="249.90" stroke="#555" stroke-width="0.5" />
<text transform="translate(389.30 260.10)" y="2.33" font-size="6.5" text-anchor="end" font-weight="normal" fill="#000" stroke="#000" stroke-width="0.12">40</text>
<line x1="390.50" y1="260.10" x2="391.80" y2="260.10" stroke="#555" stroke-width="0.5" />
<text transform="translate(389.30 280.80)" y="2.33" font-size="6.5" text-anchor="end" font-weight="normal" fill="#000" stroke="#000" stroke-width="0.12">20</text>
<line x1="390.50" y1="280.80" x2="391.80" y2="280.80" stroke="#555" stroke-width="0.5" />
<line x1="432.50" y1="249.20" x2="432.50" y2="302.50" stroke="#707070" stroke-width="0.55" />
<text transform="translate(398.90 258.90)" y="1.93" font-size="5.4" text-anchor="middle" font-weight="normal" fill="#000" stroke="#000" stroke-width="0.12">80</text>
<text transform="translate(442.00 254.40)" y="1.86" font-size="5.2" text-anchor="end" font-weight="normal" fill="#000" stroke="#000" stroke-width="0.12">V14-R</text>
<text transform="translate(442.00 260.60)" y="1.86" font-size="5.2" text-anchor="end" font-weight="normal" fill="#000" stroke="#000" stroke-width="0.12">20.0%</text>
<polygon points="408.50,302.40 408.50,302.20 409.05,302.07 409.60,301.85 410.15,301.60 410.70,300.53 411.25,300.55 411.80,300.52 412.30,299.50 412.90,300.72 413.45,299.22 414.00,299.30 414.55,299.98 415.10,298.27 415.65,297.08 416.20,296.50 416.75,298.09 417.30,295.12 417.85,298.29 418.10,289.90 418.40,288.61 418.95,284.83 419.60,281.30 420.05,284.30 420.80,285.10 421.15,283.46 421.90,267.30 422.25,284.91 422.80,280.88 423.10,283.20 423.35,290.01 423.90,292.23 424.45,286.79 424.80,285.10 425.55,291.45 426.10,295.10 426.70,291.80 427.20,299.39 427.75,295.97 428.30,295.37 428.85,298.69 429.60,296.60 429.95,297.24 430.50,299.71 431.05,298.17 431.60,301.35 432.15,299.82 432.50,300.30 433.25,298.68 433.80,299.07 434.40,296.00 434.90,288.83 435.45,285.13 435.90,270.70 436.55,283.55 437.20,296.00 437.65,298.94 438.40,302.30 438.40,302.40" fill="#000"/>
<line x1="323.30" y1="311.30" x2="439.50" y2="311.30" stroke="#000" stroke-width="1.25" />
<polygon points="443.3,311.3 437.6,308.8 437.6,313.8" fill="#000"/>
<text transform="translate(343.45 318.70) scale(0.743 1)" y="3.19" font-size="8.9" text-anchor="middle" font-weight="normal" fill="#000" stroke="#000" stroke-width="0.18">CFSE</text>
<line x1="479.00" y1="21.20" x2="479.00" y2="80.70" stroke="#000" stroke-width="1.2" />
<line x1="478.70" y1="78.00" x2="507.80" y2="78.00" stroke="#000" stroke-width="1.2" />
<line x1="475.20" y1="78.00" x2="479.00" y2="78.00" stroke="#000" stroke-width="1.0" />
<text transform="translate(472.60 78.00)" y="2.33" font-size="6.5" text-anchor="end" font-weight="normal" fill="#000" stroke="#000" stroke-width="0.12">0</text>
<line x1="475.20" y1="67.20" x2="479.00" y2="67.20" stroke="#000" stroke-width="1.0" />
<text transform="translate(472.60 67.20)" y="2.33" font-size="6.5" text-anchor="end" font-weight="normal" fill="#000" stroke="#000" stroke-width="0.12">20</text>
<line x1="475.20" y1="56.40" x2="479.00" y2="56.40" stroke="#000" stroke-width="1.0" />
<text transform="translate(472.60 56.40)" y="2.33" font-size="6.5" text-anchor="end" font-weight="normal" fill="#000" stroke="#000" stroke-width="0.12">40</text>
<line x1="475.20" y1="45.60" x2="479.00" y2="45.60" stroke="#000" stroke-width="1.0" />
<text transform="translate(472.60 45.60)" y="2.33" font-size="6.5" text-anchor="end" font-weight="normal" fill="#000" stroke="#000" stroke-width="0.12">60</text>
<line x1="475.20" y1="34.80" x2="479.00" y2="34.80" stroke="#000" stroke-width="1.0" />
<text transform="translate(472.60 34.80)" y="2.33" font-size="6.5" text-anchor="end" font-weight="normal" fill="#000" stroke="#000" stroke-width="0.12">80</text>
<line x1="475.20" y1="24.00" x2="479.00" y2="24.00" stroke="#000" stroke-width="1.0" />
<text transform="translate(472.60 24.00)" y="2.33" font-size="6.5" text-anchor="end" font-weight="normal" fill="#000" stroke="#000" stroke-width="0.12">100</text>
<rect x="487.55" y="28.65" width="13.80" height="48.85" fill="#a6002b" stroke="#8a0622" stroke-width="0.5" />
<line x1="494.45" y1="27.40" x2="494.45" y2="28.70" stroke="#000" stroke-width="0.9" />
<line x1="492.95" y1="27.40" x2="495.95" y2="27.40" stroke="#000" stroke-width="0.9" />
<text transform="translate(494.60 84.60)" y="2.33" font-size="6.5" text-anchor="middle" font-weight="normal" fill="#000" stroke="#000" stroke-width="0.12">72</text>
<text transform="translate(453.20 49.40) rotate(-90) scale(0.781 1)" y="3.15" font-size="8.8" text-anchor="middle" font-weight="normal" fill="#000" stroke="#000" stroke-width="0.08">CD4</text>
<line x1="479.00" y1="90.70" x2="479.00" y2="151.00" stroke="#000" stroke-width="1.2" />
<line x1="478.70" y1="148.30" x2="507.80" y2="148.30" stroke="#000" stroke-width="1.2" />
<line x1="475.20" y1="148.30" x2="479.00" y2="148.30" stroke="#000" stroke-width="1.0" />
<text transform="translate(472.60 148.30)" y="2.33" font-size="6.5" text-anchor="end" font-weight="normal" fill="#000" stroke="#000" stroke-width="0.12">0</text>
<line x1="475.20" y1="137.46" x2="479.00" y2="137.46" stroke="#000" stroke-width="1.0" />
<text transform="translate(472.60 137.46)" y="2.33" font-size="6.5" text-anchor="end" font-weight="normal" fill="#000" stroke="#000" stroke-width="0.12">20</text>
<line x1="475.20" y1="126.62" x2="479.00" y2="126.62" stroke="#000" stroke-width="1.0" />
<text transform="translate(472.60 126.62)" y="2.33" font-size="6.5" text-anchor="end" font-weight="normal" fill="#000" stroke="#000" stroke-width="0.12">40</text>
<line x1="475.20" y1="115.78" x2="479.00" y2="115.78" stroke="#000" stroke-width="1.0" />
<text transform="translate(472.60 115.78)" y="2.33" font-size="6.5" text-anchor="end" font-weight="normal" fill="#000" stroke="#000" stroke-width="0.12">60</text>
<line x1="475.20" y1="104.94" x2="479.00" y2="104.94" stroke="#000" stroke-width="1.0" />
<text transform="translate(472.60 104.94)" y="2.33" font-size="6.5" text-anchor="end" font-weight="normal" fill="#000" stroke="#000" stroke-width="0.12">80</text>
<line x1="475.20" y1="94.10" x2="479.00" y2="94.10" stroke="#000" stroke-width="1.0" />
<text transform="translate(472.60 94.10)" y="2.33" font-size="6.5" text-anchor="end" font-weight="normal" fill="#000" stroke="#000" stroke-width="0.12">100</text>
<rect x="487.55" y="98.95" width="14.00" height="48.85" fill="#a6002b" stroke="#8a0622" stroke-width="0.5" />
<line x1="494.55" y1="97.80" x2="494.55" y2="99.00" stroke="#000" stroke-width="0.9" />
<line x1="493.05" y1="97.80" x2="496.05" y2="97.80" stroke="#000" stroke-width="0.9" />
<text transform="translate(494.40 155.10)" y="2.33" font-size="6.5" text-anchor="middle" font-weight="normal" fill="#000" stroke="#000" stroke-width="0.12">72</text>
<text transform="translate(453.20 119.90) rotate(-90) scale(0.781 1)" y="3.15" font-size="8.8" text-anchor="middle" font-weight="normal" fill="#000" stroke="#000" stroke-width="0.08">CD8</text>
<line x1="479.30" y1="176.40" x2="479.30" y2="234.50" stroke="#000" stroke-width="1.2" />
<line x1="479.00" y1="231.80" x2="508.60" y2="231.80" stroke="#000" stroke-width="1.2" />
<line x1="475.50" y1="231.80" x2="479.30" y2="231.80" stroke="#000" stroke-width="1.0" />
<text transform="translate(472.90 231.80)" y="2.33" font-size="6.5" text-anchor="end" font-weight="normal" fill="#000" stroke="#000" stroke-width="0.12">0</text>
<line x1="475.50" y1="221.30" x2="479.30" y2="221.30" stroke="#000" stroke-width="1.0" />
<text transform="translate(472.90 221.30)" y="2.33" font-size="6.5" text-anchor="end" font-weight="normal" fill="#000" stroke="#000" stroke-width="0.12">20</text>
<line x1="475.50" y1="210.80" x2="479.30" y2="210.80" stroke="#000" stroke-width="1.0" />
<text transform="translate(472.90 210.80)" y="2.33" font-size="6.5" text-anchor="end" font-weight="normal" fill="#000" stroke="#000" stroke-width="0.12">40</text>
<line x1="475.50" y1="200.30" x2="479.30" y2="200.30" stroke="#000" stroke-width="1.0" />
<text transform="translate(472.90 200.30)" y="2.33" font-size="6.5" text-anchor="end" font-weight="normal" fill="#000" stroke="#000" stroke-width="0.12">60</text>
<line x1="475.50" y1="189.80" x2="479.30" y2="189.80" stroke="#000" stroke-width="1.0" />
<text transform="translate(472.90 189.80)" y="2.33" font-size="6.5" text-anchor="end" font-weight="normal" fill="#000" stroke="#000" stroke-width="0.12">80</text>
<line x1="475.50" y1="179.30" x2="479.30" y2="179.30" stroke="#000" stroke-width="1.0" />
<text transform="translate(472.90 179.30)" y="2.33" font-size="6.5" text-anchor="end" font-weight="normal" fill="#000" stroke="#000" stroke-width="0.12">100</text>
<rect x="488.25" y="191.55" width="14.20" height="39.75" fill="#a6002b" stroke="#8a0622" stroke-width="0.5" />
<line x1="495.35" y1="190.30" x2="495.35" y2="191.60" stroke="#000" stroke-width="0.9" />
<line x1="493.85" y1="190.30" x2="496.85" y2="190.30" stroke="#000" stroke-width="0.9" />
<text transform="translate(495.00 238.70)" y="2.33" font-size="6.5" text-anchor="middle" font-weight="normal" fill="#000" stroke="#000" stroke-width="0.12">72</text>
<text transform="translate(453.40 203.70) rotate(-90) scale(0.781 1)" y="3.15" font-size="8.8" text-anchor="middle" font-weight="normal" fill="#000" stroke="#000" stroke-width="0.08">CD4</text>
<line x1="479.30" y1="247.00" x2="479.30" y2="305.20" stroke="#000" stroke-width="1.2" />
<line x1="479.00" y1="302.50" x2="509.20" y2="302.50" stroke="#000" stroke-width="1.2" />
<line x1="475.50" y1="302.50" x2="479.30" y2="302.50" stroke="#000" stroke-width="1.0" />
<text transform="translate(472.90 302.50)" y="2.33" font-size="6.5" text-anchor="end" font-weight="normal" fill="#000" stroke="#000" stroke-width="0.12">0</text>
<line x1="475.50" y1="291.98" x2="479.30" y2="291.98" stroke="#000" stroke-width="1.0" />
<text transform="translate(472.90 291.98)" y="2.33" font-size="6.5" text-anchor="end" font-weight="normal" fill="#000" stroke="#000" stroke-width="0.12">20</text>
<line x1="475.50" y1="281.46" x2="479.30" y2="281.46" stroke="#000" stroke-width="1.0" />
<text transform="translate(472.90 281.46)" y="2.33" font-size="6.5" text-anchor="end" font-weight="normal" fill="#000" stroke="#000" stroke-width="0.12">40</text>
<line x1="475.50" y1="270.94" x2="479.30" y2="270.94" stroke="#000" stroke-width="1.0" />
<text transform="translate(472.90 270.94)" y="2.33" font-size="6.5" text-anchor="end" font-weight="normal" fill="#000" stroke="#000" stroke-width="0.12">60</text>
<line x1="475.50" y1="260.42" x2="479.30" y2="260.42" stroke="#000" stroke-width="1.0" />
<text transform="translate(472.90 260.42)" y="2.33" font-size="6.5" text-anchor="end" font-weight="normal" fill="#000" stroke="#000" stroke-width="0.12">80</text>
<line x1="475.50" y1="249.90" x2="479.30" y2="249.90" stroke="#000" stroke-width="1.0" />
<text transform="translate(472.90 249.90)" y="2.33" font-size="6.5" text-anchor="end" font-weight="normal" fill="#000" stroke="#000" stroke-width="0.12">100</text>
<rect x="488.55" y="258.55" width="14.30" height="43.45" fill="#a6002b" stroke="#8a0622" stroke-width="0.5" />
<line x1="495.70" y1="256.90" x2="495.70" y2="258.60" stroke="#000" stroke-width="0.9" />
<line x1="494.20" y1="256.90" x2="497.20" y2="256.90" stroke="#000" stroke-width="0.9" />
<text transform="translate(495.50 308.60)" y="2.33" font-size="6.5" text-anchor="middle" font-weight="normal" fill="#000" stroke="#000" stroke-width="0.12">72</text>
<text transform="translate(453.60 280.60) rotate(-90) scale(0.781 1)" y="3.15" font-size="8.8" text-anchor="middle" font-weight="normal" fill="#000" stroke="#000" stroke-width="0.08">CD8</text>
<text transform="translate(495.00 320.50) scale(0.899 1)" y="3.19" font-size="8.9" text-anchor="middle" font-weight="normal" fill="#000" stroke="#000" stroke-width="0.18">Time (hr)</text>
<rect x="0" y="0" width="520" height="1" fill="#000"/>
<rect x="0" y="0" width="1.1" height="334" fill="#000"/>
<rect x="518.7" y="0" width="1.3" height="334" fill="#000"/>
<rect x="0" y="332.5" width="520" height="1.5" fill="#000"/>
</svg>
</body></html>
